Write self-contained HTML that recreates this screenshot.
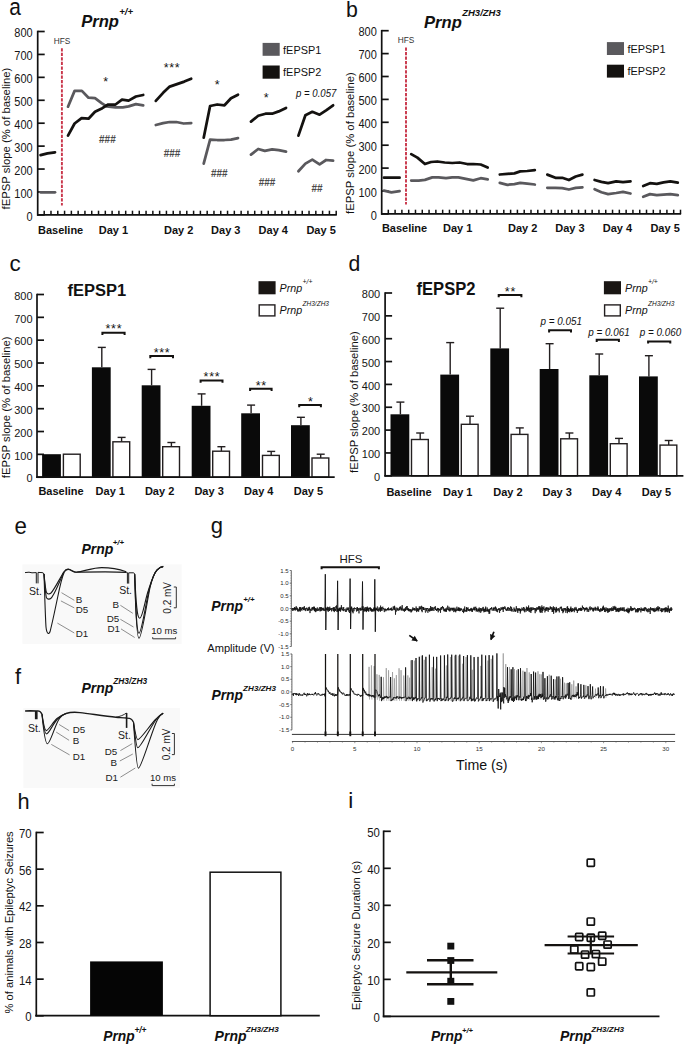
<!DOCTYPE html>
<html><head><meta charset="utf-8"><style>
html,body{margin:0;padding:0;background:#fff;}
svg{display:block;}
text{font-family:"Liberation Sans", sans-serif;}
</style></head><body>
<svg width="685" height="1045" viewBox="0 0 685 1045">
<rect x="0" y="0" width="685" height="1045" fill="#fff"/>
<text transform="translate(9.30,14.80) scale(0.93,1.1)" font-size="22.5" font-weight="normal" font-style="normal" text-anchor="start" fill="#111" font-family="Liberation Sans" >a</text>
<text x="81.20" y="27.00" font-size="16.6" font-weight="bold" font-style="italic" text-anchor="start" fill="#111" font-family="Liberation Sans" >Prnp</text>
<text x="119.20" y="15.30" font-size="9.6" font-weight="bold" font-style="italic" text-anchor="start" fill="#111" font-family="Liberation Sans" >+/+</text>
<line x1="37.70" y1="30.70" x2="37.70" y2="215.70" stroke="#111" stroke-width="1.7" />
<line x1="37.70" y1="214.90" x2="44.70" y2="214.90" stroke="#111" stroke-width="1.7" />
<text transform="translate(32.70,220.50) scale(1.0,1.09)" font-size="11" font-weight="normal" font-style="normal" text-anchor="end" fill="#161616" font-family="Liberation Sans" >0</text>
<line x1="37.70" y1="191.97" x2="44.70" y2="191.97" stroke="#111" stroke-width="1.7" />
<text transform="translate(32.70,197.57) scale(1.0,1.09)" font-size="11" font-weight="normal" font-style="normal" text-anchor="end" fill="#161616" font-family="Liberation Sans" >100</text>
<line x1="37.70" y1="169.05" x2="44.70" y2="169.05" stroke="#111" stroke-width="1.7" />
<text transform="translate(32.70,174.65) scale(1.0,1.09)" font-size="11" font-weight="normal" font-style="normal" text-anchor="end" fill="#161616" font-family="Liberation Sans" >200</text>
<line x1="37.70" y1="146.12" x2="44.70" y2="146.12" stroke="#111" stroke-width="1.7" />
<text transform="translate(32.70,151.72) scale(1.0,1.09)" font-size="11" font-weight="normal" font-style="normal" text-anchor="end" fill="#161616" font-family="Liberation Sans" >300</text>
<line x1="37.70" y1="123.20" x2="44.70" y2="123.20" stroke="#111" stroke-width="1.7" />
<text transform="translate(32.70,128.80) scale(1.0,1.09)" font-size="11" font-weight="normal" font-style="normal" text-anchor="end" fill="#161616" font-family="Liberation Sans" >400</text>
<line x1="37.70" y1="100.28" x2="44.70" y2="100.28" stroke="#111" stroke-width="1.7" />
<text transform="translate(32.70,105.88) scale(1.0,1.09)" font-size="11" font-weight="normal" font-style="normal" text-anchor="end" fill="#161616" font-family="Liberation Sans" >500</text>
<line x1="37.70" y1="77.35" x2="44.70" y2="77.35" stroke="#111" stroke-width="1.7" />
<text transform="translate(32.70,82.95) scale(1.0,1.09)" font-size="11" font-weight="normal" font-style="normal" text-anchor="end" fill="#161616" font-family="Liberation Sans" >600</text>
<line x1="37.70" y1="54.43" x2="44.70" y2="54.43" stroke="#111" stroke-width="1.7" />
<text transform="translate(32.70,60.03) scale(1.0,1.09)" font-size="11" font-weight="normal" font-style="normal" text-anchor="end" fill="#161616" font-family="Liberation Sans" >700</text>
<line x1="37.70" y1="31.50" x2="44.70" y2="31.50" stroke="#111" stroke-width="1.7" />
<text transform="translate(32.70,37.10) scale(1.0,1.09)" font-size="11" font-weight="normal" font-style="normal" text-anchor="end" fill="#161616" font-family="Liberation Sans" >800</text>
<line x1="37.00" y1="214.90" x2="336.80" y2="214.90" stroke="#111" stroke-width="1.7" />
<line x1="44.20" y1="214.90" x2="44.20" y2="210.70" stroke="#111" stroke-width="1.5" />
<line x1="50.99" y1="214.90" x2="50.99" y2="210.70" stroke="#111" stroke-width="1.5" />
<line x1="57.78" y1="214.90" x2="57.78" y2="210.70" stroke="#111" stroke-width="1.5" />
<line x1="64.57" y1="214.90" x2="64.57" y2="210.70" stroke="#111" stroke-width="1.5" />
<line x1="71.36" y1="214.90" x2="71.36" y2="210.70" stroke="#111" stroke-width="1.5" />
<line x1="78.15" y1="214.90" x2="78.15" y2="210.70" stroke="#111" stroke-width="1.5" />
<line x1="84.94" y1="214.90" x2="84.94" y2="210.70" stroke="#111" stroke-width="1.5" />
<line x1="91.73" y1="214.90" x2="91.73" y2="210.70" stroke="#111" stroke-width="1.5" />
<line x1="98.53" y1="214.90" x2="98.53" y2="210.70" stroke="#111" stroke-width="1.5" />
<line x1="105.32" y1="214.90" x2="105.32" y2="210.70" stroke="#111" stroke-width="1.5" />
<line x1="112.11" y1="214.90" x2="112.11" y2="210.70" stroke="#111" stroke-width="1.5" />
<line x1="118.90" y1="214.90" x2="118.90" y2="210.70" stroke="#111" stroke-width="1.5" />
<line x1="125.69" y1="214.90" x2="125.69" y2="210.70" stroke="#111" stroke-width="1.5" />
<line x1="132.48" y1="214.90" x2="132.48" y2="210.70" stroke="#111" stroke-width="1.5" />
<line x1="139.27" y1="214.90" x2="139.27" y2="210.70" stroke="#111" stroke-width="1.5" />
<line x1="146.06" y1="214.90" x2="146.06" y2="210.70" stroke="#111" stroke-width="1.5" />
<line x1="152.85" y1="214.90" x2="152.85" y2="210.70" stroke="#111" stroke-width="1.5" />
<line x1="159.64" y1="214.90" x2="159.64" y2="210.70" stroke="#111" stroke-width="1.5" />
<line x1="166.43" y1="214.90" x2="166.43" y2="210.70" stroke="#111" stroke-width="1.5" />
<line x1="173.22" y1="214.90" x2="173.22" y2="210.70" stroke="#111" stroke-width="1.5" />
<line x1="180.01" y1="214.90" x2="180.01" y2="210.70" stroke="#111" stroke-width="1.5" />
<line x1="186.80" y1="214.90" x2="186.80" y2="210.70" stroke="#111" stroke-width="1.5" />
<line x1="193.60" y1="214.90" x2="193.60" y2="210.70" stroke="#111" stroke-width="1.5" />
<line x1="200.39" y1="214.90" x2="200.39" y2="210.70" stroke="#111" stroke-width="1.5" />
<line x1="207.18" y1="214.90" x2="207.18" y2="210.70" stroke="#111" stroke-width="1.5" />
<line x1="213.97" y1="214.90" x2="213.97" y2="210.70" stroke="#111" stroke-width="1.5" />
<line x1="220.76" y1="214.90" x2="220.76" y2="210.70" stroke="#111" stroke-width="1.5" />
<line x1="227.55" y1="214.90" x2="227.55" y2="210.70" stroke="#111" stroke-width="1.5" />
<line x1="234.34" y1="214.90" x2="234.34" y2="210.70" stroke="#111" stroke-width="1.5" />
<line x1="241.13" y1="214.90" x2="241.13" y2="210.70" stroke="#111" stroke-width="1.5" />
<line x1="247.92" y1="214.90" x2="247.92" y2="210.70" stroke="#111" stroke-width="1.5" />
<line x1="254.71" y1="214.90" x2="254.71" y2="210.70" stroke="#111" stroke-width="1.5" />
<line x1="261.50" y1="214.90" x2="261.50" y2="210.70" stroke="#111" stroke-width="1.5" />
<line x1="268.29" y1="214.90" x2="268.29" y2="210.70" stroke="#111" stroke-width="1.5" />
<line x1="275.08" y1="214.90" x2="275.08" y2="210.70" stroke="#111" stroke-width="1.5" />
<line x1="281.87" y1="214.90" x2="281.87" y2="210.70" stroke="#111" stroke-width="1.5" />
<line x1="288.67" y1="214.90" x2="288.67" y2="210.70" stroke="#111" stroke-width="1.5" />
<line x1="295.46" y1="214.90" x2="295.46" y2="210.70" stroke="#111" stroke-width="1.5" />
<line x1="302.25" y1="214.90" x2="302.25" y2="210.70" stroke="#111" stroke-width="1.5" />
<line x1="309.04" y1="214.90" x2="309.04" y2="210.70" stroke="#111" stroke-width="1.5" />
<line x1="315.83" y1="214.90" x2="315.83" y2="210.70" stroke="#111" stroke-width="1.5" />
<line x1="322.62" y1="214.90" x2="322.62" y2="210.70" stroke="#111" stroke-width="1.5" />
<line x1="329.41" y1="214.90" x2="329.41" y2="210.70" stroke="#111" stroke-width="1.5" />
<line x1="336.20" y1="214.90" x2="336.20" y2="210.70" stroke="#111" stroke-width="1.5" />
<text transform="translate(9.90,138.60) rotate(-90)" x="0" y="0" font-size="11.3" text-anchor="middle" fill="#111" font-family="Liberation Sans">fEPSP slope (% of baseline)</text>
<text x="53.70" y="43.80" font-size="8.3" font-weight="normal" font-style="normal" text-anchor="start" fill="#333" font-family="Liberation Sans" >HFS</text>
<line x1="61.90" y1="48.20" x2="61.90" y2="205.60" stroke="#c9364a" stroke-width="1.9" stroke-dasharray="3.25,1.3"/>
<polyline points="40.5,192.3 55.0,192.3" fill="none" stroke="#5a595d" stroke-width="2.75" stroke-linejoin="round" stroke-linecap="round" />
<polyline points="68.0,106.7 74.6,90.9 81.9,90.9 88.5,97.7 95.0,98.2 101.6,103.1 106.7,106.4 115.5,107.4 122.8,107.4 128.6,106.4 135.9,104.1 143.2,105.3" fill="none" stroke="#5a595d" stroke-width="2.75" stroke-linejoin="round" stroke-linecap="round" />
<polyline points="155.8,125.0 163.1,123.1 169.7,122.0 176.3,122.0 183.6,123.5 191.2,123.1" fill="none" stroke="#5a595d" stroke-width="2.75" stroke-linejoin="round" stroke-linecap="round" />
<polyline points="203.7,163.6 210.1,139.6 217.2,140.0 224.5,140.0 231.0,139.6 238.0,138.1" fill="none" stroke="#5a595d" stroke-width="2.75" stroke-linejoin="round" stroke-linecap="round" />
<polyline points="251.0,154.6 258.2,149.0 264.8,150.8 272.1,149.3 278.7,150.2 286.0,151.7" fill="none" stroke="#5a595d" stroke-width="2.75" stroke-linejoin="round" stroke-linecap="round" />
<polyline points="298.4,171.2 305.4,163.6 312.3,159.6 319.6,164.4 326.1,160.0 333.1,160.7" fill="none" stroke="#5a595d" stroke-width="2.75" stroke-linejoin="round" stroke-linecap="round" />
<polyline points="40.6,155.2 47.5,153.4 55.0,152.3" fill="none" stroke="#141210" stroke-width="2.75" stroke-linejoin="round" stroke-linecap="round" />
<polyline points="68.0,135.6 74.6,123.5 81.6,118.1 88.5,118.7 95.0,111.8 102.3,108.2 108.2,104.5 115.5,104.5 122.0,99.7 128.6,100.6 135.9,96.5 143.2,95.0" fill="none" stroke="#141210" stroke-width="2.75" stroke-linejoin="round" stroke-linecap="round" />
<polyline points="155.8,100.9 163.1,92.8 169.7,86.6 177.0,84.1 184.3,81.6 191.2,78.7" fill="none" stroke="#141210" stroke-width="2.75" stroke-linejoin="round" stroke-linecap="round" />
<polyline points="203.7,137.7 210.1,106.0 217.2,104.5 224.5,105.3 231.0,98.2 238.0,94.7" fill="none" stroke="#141210" stroke-width="2.75" stroke-linejoin="round" stroke-linecap="round" />
<polyline points="251.0,121.6 258.2,115.8 265.5,113.7 272.1,113.7 278.7,111.4 286.0,107.9" fill="none" stroke="#141210" stroke-width="2.75" stroke-linejoin="round" stroke-linecap="round" />
<polyline points="298.4,135.6 305.4,115.2 312.3,111.8 319.6,114.7 326.1,110.4 333.1,105.3" fill="none" stroke="#141210" stroke-width="2.75" stroke-linejoin="round" stroke-linecap="round" />
<rect x="262.60" y="42.90" width="17.10" height="12.90" fill="#5a595d" stroke="none" stroke-width="0" />
<rect x="262.60" y="65.50" width="17.10" height="13.20" fill="#141210" stroke="none" stroke-width="0" />
<text x="283.10" y="54.00" font-size="10.9" font-weight="normal" font-style="normal" text-anchor="start" fill="#111" font-family="Liberation Sans" >fEPSP1</text>
<text x="283.10" y="76.20" font-size="10.9" font-weight="normal" font-style="normal" text-anchor="start" fill="#111" font-family="Liberation Sans" >fEPSP2</text>
<text x="60.60" y="233.70" font-size="11" font-weight="bold" font-style="normal" text-anchor="middle" fill="#111" font-family="Liberation Sans" >Baseline</text>
<text x="113.50" y="233.70" font-size="11" font-weight="bold" font-style="normal" text-anchor="middle" fill="#111" font-family="Liberation Sans" >Day 1</text>
<text x="178.70" y="233.70" font-size="11" font-weight="bold" font-style="normal" text-anchor="middle" fill="#111" font-family="Liberation Sans" >Day 2</text>
<text x="225.80" y="233.70" font-size="11" font-weight="bold" font-style="normal" text-anchor="middle" fill="#111" font-family="Liberation Sans" >Day 3</text>
<text x="273.30" y="233.70" font-size="11" font-weight="bold" font-style="normal" text-anchor="middle" fill="#111" font-family="Liberation Sans" >Day 4</text>
<text x="321.10" y="233.70" font-size="11" font-weight="bold" font-style="normal" text-anchor="middle" fill="#111" font-family="Liberation Sans" >Day 5</text>
<text x="105.60" y="85.50" font-size="12.5" font-weight="normal" font-style="normal" text-anchor="middle" fill="#111" font-family="Liberation Sans" >*</text>
<text x="172.00" y="72.40" font-size="12.5" font-weight="normal" font-style="normal" text-anchor="middle" fill="#111" font-family="Liberation Sans" letter-spacing="0.7">***</text>
<text x="217.20" y="88.70" font-size="12.5" font-weight="normal" font-style="normal" text-anchor="middle" fill="#111" font-family="Liberation Sans" >*</text>
<text x="266.30" y="101.80" font-size="12.5" font-weight="normal" font-style="normal" text-anchor="middle" fill="#111" font-family="Liberation Sans" >*</text>
<text transform="translate(316.20,96.90) scale(1.0,1.1)" font-size="9.6" font-weight="normal" font-style="italic" text-anchor="middle" fill="#111" font-family="Liberation Sans" >p = 0.057</text>
<text x="107.40" y="143.40" font-size="10" font-weight="bold" font-style="normal" text-anchor="middle" fill="#4a4a4a" font-family="Liberation Serif" >###</text>
<text x="172.00" y="156.50" font-size="10" font-weight="bold" font-style="normal" text-anchor="middle" fill="#4a4a4a" font-family="Liberation Serif" >###</text>
<text x="219.30" y="176.90" font-size="10" font-weight="bold" font-style="normal" text-anchor="middle" fill="#4a4a4a" font-family="Liberation Serif" >###</text>
<text x="267.00" y="186.20" font-size="10" font-weight="bold" font-style="normal" text-anchor="middle" fill="#4a4a4a" font-family="Liberation Serif" >###</text>
<text x="317.00" y="192.00" font-size="10" font-weight="bold" font-style="normal" text-anchor="middle" fill="#4a4a4a" font-family="Liberation Serif" >##</text>
<text transform="translate(346.00,16.80) scale(1.0,1.03)" font-size="21.3" font-weight="normal" font-style="normal" text-anchor="start" fill="#111" font-family="Liberation Sans" >b</text>
<text x="424.00" y="27.50" font-size="16.6" font-weight="bold" font-style="italic" text-anchor="start" fill="#111" font-family="Liberation Sans" >Prnp</text>
<text x="462.20" y="15.60" font-size="9.5" font-weight="bold" font-style="italic" text-anchor="start" fill="#111" font-family="Liberation Sans" >ZH3/ZH3</text>
<line x1="381.70" y1="29.90" x2="381.70" y2="214.70" stroke="#111" stroke-width="1.7" />
<line x1="381.70" y1="213.90" x2="388.70" y2="213.90" stroke="#111" stroke-width="1.7" />
<text transform="translate(376.80,219.50) scale(1.0,1.09)" font-size="11" font-weight="normal" font-style="normal" text-anchor="end" fill="#161616" font-family="Liberation Sans" >0</text>
<line x1="381.70" y1="191.00" x2="388.70" y2="191.00" stroke="#111" stroke-width="1.7" />
<text transform="translate(376.80,196.60) scale(1.0,1.09)" font-size="11" font-weight="normal" font-style="normal" text-anchor="end" fill="#161616" font-family="Liberation Sans" >100</text>
<line x1="381.70" y1="168.10" x2="388.70" y2="168.10" stroke="#111" stroke-width="1.7" />
<text transform="translate(376.80,173.70) scale(1.0,1.09)" font-size="11" font-weight="normal" font-style="normal" text-anchor="end" fill="#161616" font-family="Liberation Sans" >200</text>
<line x1="381.70" y1="145.20" x2="388.70" y2="145.20" stroke="#111" stroke-width="1.7" />
<text transform="translate(376.80,150.80) scale(1.0,1.09)" font-size="11" font-weight="normal" font-style="normal" text-anchor="end" fill="#161616" font-family="Liberation Sans" >300</text>
<line x1="381.70" y1="122.30" x2="388.70" y2="122.30" stroke="#111" stroke-width="1.7" />
<text transform="translate(376.80,127.90) scale(1.0,1.09)" font-size="11" font-weight="normal" font-style="normal" text-anchor="end" fill="#161616" font-family="Liberation Sans" >400</text>
<line x1="381.70" y1="99.40" x2="388.70" y2="99.40" stroke="#111" stroke-width="1.7" />
<text transform="translate(376.80,105.00) scale(1.0,1.09)" font-size="11" font-weight="normal" font-style="normal" text-anchor="end" fill="#161616" font-family="Liberation Sans" >500</text>
<line x1="381.70" y1="76.50" x2="388.70" y2="76.50" stroke="#111" stroke-width="1.7" />
<text transform="translate(376.80,82.10) scale(1.0,1.09)" font-size="11" font-weight="normal" font-style="normal" text-anchor="end" fill="#161616" font-family="Liberation Sans" >600</text>
<line x1="381.70" y1="53.60" x2="388.70" y2="53.60" stroke="#111" stroke-width="1.7" />
<text transform="translate(376.80,59.20) scale(1.0,1.09)" font-size="11" font-weight="normal" font-style="normal" text-anchor="end" fill="#161616" font-family="Liberation Sans" >700</text>
<line x1="381.70" y1="30.70" x2="388.70" y2="30.70" stroke="#111" stroke-width="1.7" />
<text transform="translate(376.80,36.30) scale(1.0,1.09)" font-size="11" font-weight="normal" font-style="normal" text-anchor="end" fill="#161616" font-family="Liberation Sans" >800</text>
<line x1="381.00" y1="213.90" x2="681.10" y2="213.90" stroke="#111" stroke-width="1.7" />
<line x1="388.30" y1="213.90" x2="388.30" y2="209.70" stroke="#111" stroke-width="1.5" />
<line x1="395.10" y1="213.90" x2="395.10" y2="209.70" stroke="#111" stroke-width="1.5" />
<line x1="401.89" y1="213.90" x2="401.89" y2="209.70" stroke="#111" stroke-width="1.5" />
<line x1="408.69" y1="213.90" x2="408.69" y2="209.70" stroke="#111" stroke-width="1.5" />
<line x1="415.48" y1="213.90" x2="415.48" y2="209.70" stroke="#111" stroke-width="1.5" />
<line x1="422.28" y1="213.90" x2="422.28" y2="209.70" stroke="#111" stroke-width="1.5" />
<line x1="429.07" y1="213.90" x2="429.07" y2="209.70" stroke="#111" stroke-width="1.5" />
<line x1="435.87" y1="213.90" x2="435.87" y2="209.70" stroke="#111" stroke-width="1.5" />
<line x1="442.66" y1="213.90" x2="442.66" y2="209.70" stroke="#111" stroke-width="1.5" />
<line x1="449.46" y1="213.90" x2="449.46" y2="209.70" stroke="#111" stroke-width="1.5" />
<line x1="456.25" y1="213.90" x2="456.25" y2="209.70" stroke="#111" stroke-width="1.5" />
<line x1="463.05" y1="213.90" x2="463.05" y2="209.70" stroke="#111" stroke-width="1.5" />
<line x1="469.84" y1="213.90" x2="469.84" y2="209.70" stroke="#111" stroke-width="1.5" />
<line x1="476.64" y1="213.90" x2="476.64" y2="209.70" stroke="#111" stroke-width="1.5" />
<line x1="483.43" y1="213.90" x2="483.43" y2="209.70" stroke="#111" stroke-width="1.5" />
<line x1="490.23" y1="213.90" x2="490.23" y2="209.70" stroke="#111" stroke-width="1.5" />
<line x1="497.03" y1="213.90" x2="497.03" y2="209.70" stroke="#111" stroke-width="1.5" />
<line x1="503.82" y1="213.90" x2="503.82" y2="209.70" stroke="#111" stroke-width="1.5" />
<line x1="510.62" y1="213.90" x2="510.62" y2="209.70" stroke="#111" stroke-width="1.5" />
<line x1="517.41" y1="213.90" x2="517.41" y2="209.70" stroke="#111" stroke-width="1.5" />
<line x1="524.21" y1="213.90" x2="524.21" y2="209.70" stroke="#111" stroke-width="1.5" />
<line x1="531.00" y1="213.90" x2="531.00" y2="209.70" stroke="#111" stroke-width="1.5" />
<line x1="537.80" y1="213.90" x2="537.80" y2="209.70" stroke="#111" stroke-width="1.5" />
<line x1="544.59" y1="213.90" x2="544.59" y2="209.70" stroke="#111" stroke-width="1.5" />
<line x1="551.39" y1="213.90" x2="551.39" y2="209.70" stroke="#111" stroke-width="1.5" />
<line x1="558.18" y1="213.90" x2="558.18" y2="209.70" stroke="#111" stroke-width="1.5" />
<line x1="564.98" y1="213.90" x2="564.98" y2="209.70" stroke="#111" stroke-width="1.5" />
<line x1="571.77" y1="213.90" x2="571.77" y2="209.70" stroke="#111" stroke-width="1.5" />
<line x1="578.57" y1="213.90" x2="578.57" y2="209.70" stroke="#111" stroke-width="1.5" />
<line x1="585.37" y1="213.90" x2="585.37" y2="209.70" stroke="#111" stroke-width="1.5" />
<line x1="592.16" y1="213.90" x2="592.16" y2="209.70" stroke="#111" stroke-width="1.5" />
<line x1="598.96" y1="213.90" x2="598.96" y2="209.70" stroke="#111" stroke-width="1.5" />
<line x1="605.75" y1="213.90" x2="605.75" y2="209.70" stroke="#111" stroke-width="1.5" />
<line x1="612.55" y1="213.90" x2="612.55" y2="209.70" stroke="#111" stroke-width="1.5" />
<line x1="619.34" y1="213.90" x2="619.34" y2="209.70" stroke="#111" stroke-width="1.5" />
<line x1="626.14" y1="213.90" x2="626.14" y2="209.70" stroke="#111" stroke-width="1.5" />
<line x1="632.93" y1="213.90" x2="632.93" y2="209.70" stroke="#111" stroke-width="1.5" />
<line x1="639.73" y1="213.90" x2="639.73" y2="209.70" stroke="#111" stroke-width="1.5" />
<line x1="646.52" y1="213.90" x2="646.52" y2="209.70" stroke="#111" stroke-width="1.5" />
<line x1="653.32" y1="213.90" x2="653.32" y2="209.70" stroke="#111" stroke-width="1.5" />
<line x1="660.11" y1="213.90" x2="660.11" y2="209.70" stroke="#111" stroke-width="1.5" />
<line x1="666.91" y1="213.90" x2="666.91" y2="209.70" stroke="#111" stroke-width="1.5" />
<line x1="673.70" y1="213.90" x2="673.70" y2="209.70" stroke="#111" stroke-width="1.5" />
<line x1="680.50" y1="213.90" x2="680.50" y2="209.70" stroke="#111" stroke-width="1.5" />
<text transform="translate(354.00,143.10) rotate(-90)" x="0" y="0" font-size="11.3" text-anchor="middle" fill="#111" font-family="Liberation Sans">fEPSP slope (% of baseline)</text>
<text x="397.70" y="43.10" font-size="8.3" font-weight="normal" font-style="normal" text-anchor="start" fill="#333" font-family="Liberation Sans" >HFS</text>
<line x1="406.00" y1="47.40" x2="406.00" y2="204.60" stroke="#c9364a" stroke-width="1.9" stroke-dasharray="3.25,1.3"/>
<polyline points="384.0,190.6 391.4,192.3 399.6,191.1" fill="none" stroke="#5a595d" stroke-width="2.75" stroke-linejoin="round" stroke-linecap="round" />
<polyline points="411.2,180.6 418.7,180.6 424.9,179.9 432.3,177.4 438.5,177.4 446.0,178.2 452.2,177.4 458.4,177.4 465.8,178.9 473.3,180.4 480.7,178.2 487.7,179.4" fill="none" stroke="#5a595d" stroke-width="2.75" stroke-linejoin="round" stroke-linecap="round" />
<polyline points="499.8,182.9 507.4,184.8 514.4,184.1 520.2,182.9 527.2,183.6 534.8,184.5" fill="none" stroke="#5a595d" stroke-width="2.75" stroke-linejoin="round" stroke-linecap="round" />
<polyline points="547.3,187.8 555.4,187.8 562.2,188.1 568.9,189.5 575.7,187.8 582.4,187.3" fill="none" stroke="#5a595d" stroke-width="2.75" stroke-linejoin="round" stroke-linecap="round" />
<polyline points="594.6,189.2 601.4,192.2 608.1,194.1 616.2,193.0 623.0,191.9 630.5,193.5" fill="none" stroke="#5a595d" stroke-width="2.75" stroke-linejoin="round" stroke-linecap="round" />
<polyline points="643.2,196.8 650.0,194.1 656.8,195.1 663.5,194.6 670.3,194.1 677.8,195.1" fill="none" stroke="#5a595d" stroke-width="2.75" stroke-linejoin="round" stroke-linecap="round" />
<polyline points="384.0,177.7 399.6,177.7" fill="none" stroke="#141210" stroke-width="2.75" stroke-linejoin="round" stroke-linecap="round" />
<polyline points="411.2,154.1 417.4,157.6 424.9,164.0 431.1,162.0 437.3,161.5 444.7,162.5 452.2,163.0 459.6,162.5 467.1,164.0 473.3,164.0 480.7,164.5 487.7,167.5" fill="none" stroke="#141210" stroke-width="2.75" stroke-linejoin="round" stroke-linecap="round" />
<polyline points="499.8,174.5 507.4,173.9 514.4,173.4 520.2,171.4 527.2,171.0 534.8,170.1" fill="none" stroke="#141210" stroke-width="2.75" stroke-linejoin="round" stroke-linecap="round" />
<polyline points="547.3,174.6 555.4,177.8 562.2,177.8 568.9,180.0 575.7,176.5 582.4,174.6" fill="none" stroke="#141210" stroke-width="2.75" stroke-linejoin="round" stroke-linecap="round" />
<polyline points="594.6,180.0 601.4,181.9 608.1,183.2 616.2,181.4 623.0,182.2 630.5,181.4" fill="none" stroke="#141210" stroke-width="2.75" stroke-linejoin="round" stroke-linecap="round" />
<polyline points="643.2,186.0 650.0,183.2 656.8,183.8 663.5,182.4 670.3,181.4 677.8,182.7" fill="none" stroke="#141210" stroke-width="2.75" stroke-linejoin="round" stroke-linecap="round" />
<rect x="606.90" y="42.10" width="17.10" height="12.90" fill="#5a595d" stroke="none" stroke-width="0" />
<rect x="606.90" y="64.70" width="17.10" height="12.90" fill="#141210" stroke="none" stroke-width="0" />
<text x="627.40" y="52.90" font-size="10.9" font-weight="normal" font-style="normal" text-anchor="start" fill="#111" font-family="Liberation Sans" >fEPSP1</text>
<text x="627.40" y="75.10" font-size="10.9" font-weight="normal" font-style="normal" text-anchor="start" fill="#111" font-family="Liberation Sans" >fEPSP2</text>
<text x="404.50" y="231.80" font-size="11" font-weight="bold" font-style="normal" text-anchor="middle" fill="#111" font-family="Liberation Sans" >Baseline</text>
<text x="457.70" y="231.80" font-size="11" font-weight="bold" font-style="normal" text-anchor="middle" fill="#111" font-family="Liberation Sans" >Day 1</text>
<text x="522.70" y="231.80" font-size="11" font-weight="bold" font-style="normal" text-anchor="middle" fill="#111" font-family="Liberation Sans" >Day 2</text>
<text x="569.90" y="231.80" font-size="11" font-weight="bold" font-style="normal" text-anchor="middle" fill="#111" font-family="Liberation Sans" >Day 3</text>
<text x="617.50" y="231.80" font-size="11" font-weight="bold" font-style="normal" text-anchor="middle" fill="#111" font-family="Liberation Sans" >Day 4</text>
<text x="665.10" y="231.80" font-size="11" font-weight="bold" font-style="normal" text-anchor="middle" fill="#111" font-family="Liberation Sans" >Day 5</text>
<text x="9.40" y="270.90" font-size="22.4" font-weight="normal" font-style="normal" text-anchor="start" fill="#111" font-family="Liberation Sans" >c</text>
<text transform="translate(67.40,296.40) scale(1.065,1.12)" font-size="15.5" font-weight="bold" font-style="normal" text-anchor="start" fill="#111" font-family="Liberation Sans" >fEPSP1</text>
<text transform="translate(9.80,407.30) rotate(-90)" x="0" y="0" font-size="11.3" text-anchor="middle" fill="#111" font-family="Liberation Sans">fEPSP slope (% of baseline)</text>
<line x1="37.00" y1="293.70" x2="37.00" y2="478.00" stroke="#111" stroke-width="1.7" />
<line x1="37.00" y1="477.20" x2="44.00" y2="477.20" stroke="#111" stroke-width="1.7" />
<text x="32.60" y="482.40" font-size="11" font-weight="normal" font-style="normal" text-anchor="end" fill="#161616" font-family="Liberation Sans" >0</text>
<line x1="37.00" y1="454.36" x2="44.00" y2="454.36" stroke="#111" stroke-width="1.7" />
<text x="32.60" y="459.56" font-size="11" font-weight="normal" font-style="normal" text-anchor="end" fill="#161616" font-family="Liberation Sans" >100</text>
<line x1="37.00" y1="431.52" x2="44.00" y2="431.52" stroke="#111" stroke-width="1.7" />
<text x="32.60" y="436.72" font-size="11" font-weight="normal" font-style="normal" text-anchor="end" fill="#161616" font-family="Liberation Sans" >200</text>
<line x1="37.00" y1="408.69" x2="44.00" y2="408.69" stroke="#111" stroke-width="1.7" />
<text x="32.60" y="413.89" font-size="11" font-weight="normal" font-style="normal" text-anchor="end" fill="#161616" font-family="Liberation Sans" >300</text>
<line x1="37.00" y1="385.85" x2="44.00" y2="385.85" stroke="#111" stroke-width="1.7" />
<text x="32.60" y="391.05" font-size="11" font-weight="normal" font-style="normal" text-anchor="end" fill="#161616" font-family="Liberation Sans" >400</text>
<line x1="37.00" y1="363.01" x2="44.00" y2="363.01" stroke="#111" stroke-width="1.7" />
<text x="32.60" y="368.21" font-size="11" font-weight="normal" font-style="normal" text-anchor="end" fill="#161616" font-family="Liberation Sans" >500</text>
<line x1="37.00" y1="340.18" x2="44.00" y2="340.18" stroke="#111" stroke-width="1.7" />
<text x="32.60" y="345.38" font-size="11" font-weight="normal" font-style="normal" text-anchor="end" fill="#161616" font-family="Liberation Sans" >600</text>
<line x1="37.00" y1="317.34" x2="44.00" y2="317.34" stroke="#111" stroke-width="1.7" />
<text x="32.60" y="322.54" font-size="11" font-weight="normal" font-style="normal" text-anchor="end" fill="#161616" font-family="Liberation Sans" >700</text>
<line x1="37.00" y1="294.50" x2="44.00" y2="294.50" stroke="#111" stroke-width="1.7" />
<text x="32.60" y="299.70" font-size="11" font-weight="normal" font-style="normal" text-anchor="end" fill="#161616" font-family="Liberation Sans" >800</text>
<rect x="42.10" y="454.20" width="18.80" height="23.00" fill="#0a0a0a" stroke="none" stroke-width="0" />
<rect x="63.40" y="454.20" width="16.80" height="23.00" fill="#fff" stroke="#231f20" stroke-width="1.4" />
<line x1="101.80" y1="347.40" x2="101.80" y2="367.30" stroke="#231f20" stroke-width="1.4" />
<line x1="97.80" y1="347.40" x2="105.80" y2="347.40" stroke="#231f20" stroke-width="1.4" />
<rect x="91.90" y="367.30" width="18.80" height="109.90" fill="#0a0a0a" stroke="none" stroke-width="0" />
<line x1="121.60" y1="437.40" x2="121.60" y2="441.80" stroke="#231f20" stroke-width="1.4" />
<line x1="117.60" y1="437.40" x2="125.60" y2="437.40" stroke="#231f20" stroke-width="1.4" />
<rect x="112.90" y="441.80" width="16.80" height="35.40" fill="#fff" stroke="#231f20" stroke-width="1.4" />
<line x1="151.60" y1="369.40" x2="151.60" y2="385.30" stroke="#231f20" stroke-width="1.4" />
<line x1="147.60" y1="369.40" x2="155.60" y2="369.40" stroke="#231f20" stroke-width="1.4" />
<rect x="141.70" y="385.30" width="18.80" height="91.90" fill="#0a0a0a" stroke="none" stroke-width="0" />
<line x1="171.40" y1="442.50" x2="171.40" y2="446.70" stroke="#231f20" stroke-width="1.4" />
<line x1="167.40" y1="442.50" x2="175.40" y2="442.50" stroke="#231f20" stroke-width="1.4" />
<rect x="162.70" y="446.70" width="16.80" height="30.50" fill="#fff" stroke="#231f20" stroke-width="1.4" />
<line x1="201.60" y1="393.90" x2="201.60" y2="405.80" stroke="#231f20" stroke-width="1.4" />
<line x1="197.60" y1="393.90" x2="205.60" y2="393.90" stroke="#231f20" stroke-width="1.4" />
<rect x="191.70" y="405.80" width="18.80" height="71.40" fill="#0a0a0a" stroke="none" stroke-width="0" />
<line x1="221.40" y1="446.70" x2="221.40" y2="451.20" stroke="#231f20" stroke-width="1.4" />
<line x1="217.40" y1="446.70" x2="225.40" y2="446.70" stroke="#231f20" stroke-width="1.4" />
<rect x="212.70" y="451.20" width="16.80" height="26.00" fill="#fff" stroke="#231f20" stroke-width="1.4" />
<line x1="251.10" y1="405.10" x2="251.10" y2="413.30" stroke="#231f20" stroke-width="1.4" />
<line x1="247.10" y1="405.10" x2="255.10" y2="405.10" stroke="#231f20" stroke-width="1.4" />
<rect x="241.20" y="413.30" width="18.80" height="63.90" fill="#0a0a0a" stroke="none" stroke-width="0" />
<line x1="271.20" y1="451.40" x2="271.20" y2="455.40" stroke="#231f20" stroke-width="1.4" />
<line x1="267.20" y1="451.40" x2="275.20" y2="451.40" stroke="#231f20" stroke-width="1.4" />
<rect x="262.50" y="455.40" width="16.80" height="21.80" fill="#fff" stroke="#231f20" stroke-width="1.4" />
<line x1="300.90" y1="417.30" x2="300.90" y2="425.20" stroke="#231f20" stroke-width="1.4" />
<line x1="296.90" y1="417.30" x2="304.90" y2="417.30" stroke="#231f20" stroke-width="1.4" />
<rect x="291.00" y="425.20" width="18.80" height="52.00" fill="#0a0a0a" stroke="none" stroke-width="0" />
<line x1="320.70" y1="454.20" x2="320.70" y2="458.00" stroke="#231f20" stroke-width="1.4" />
<line x1="316.70" y1="454.20" x2="324.70" y2="454.20" stroke="#231f20" stroke-width="1.4" />
<rect x="312.00" y="458.00" width="16.80" height="19.20" fill="#fff" stroke="#231f20" stroke-width="1.4" />
<line x1="36.20" y1="477.20" x2="334.70" y2="477.20" stroke="#111" stroke-width="1.7" />
<text x="61.00" y="494.80" font-size="11" font-weight="bold" font-style="normal" text-anchor="middle" fill="#111" font-family="Liberation Sans" >Baseline</text>
<text x="110.30" y="494.80" font-size="11" font-weight="bold" font-style="normal" text-anchor="middle" fill="#111" font-family="Liberation Sans" >Day 1</text>
<text x="159.60" y="494.80" font-size="11" font-weight="bold" font-style="normal" text-anchor="middle" fill="#111" font-family="Liberation Sans" >Day 2</text>
<text x="209.10" y="494.80" font-size="11" font-weight="bold" font-style="normal" text-anchor="middle" fill="#111" font-family="Liberation Sans" >Day 3</text>
<text x="258.80" y="494.80" font-size="11" font-weight="bold" font-style="normal" text-anchor="middle" fill="#111" font-family="Liberation Sans" >Day 4</text>
<text x="308.50" y="494.80" font-size="11" font-weight="bold" font-style="normal" text-anchor="middle" fill="#111" font-family="Liberation Sans" >Day 5</text>
<path d="M102.40,334.90 L102.40,332.70 L124.60,332.70 L124.60,334.90" fill="none" stroke="#141210" stroke-width="2.0" stroke-linejoin="miter"/>
<text x="113.90" y="333.40" font-size="12.5" font-weight="normal" font-style="normal" text-anchor="middle" fill="#111" font-family="Liberation Sans" letter-spacing="0.7">***</text>
<path d="M150.30,358.30 L150.30,356.10 L173.00,356.10 L173.00,358.30" fill="none" stroke="#141210" stroke-width="2.0" stroke-linejoin="miter"/>
<text x="162.05" y="356.80" font-size="12.5" font-weight="normal" font-style="normal" text-anchor="middle" fill="#111" font-family="Liberation Sans" letter-spacing="0.7">***</text>
<path d="M200.60,382.80 L200.60,380.60 L222.50,380.60 L222.50,382.80" fill="none" stroke="#141210" stroke-width="2.0" stroke-linejoin="miter"/>
<text x="211.95" y="381.30" font-size="12.5" font-weight="normal" font-style="normal" text-anchor="middle" fill="#111" font-family="Liberation Sans" letter-spacing="0.7">***</text>
<path d="M250.10,391.00 L250.10,388.80 L271.60,388.80 L271.60,391.00" fill="none" stroke="#141210" stroke-width="2.0" stroke-linejoin="miter"/>
<text x="261.25" y="389.50" font-size="12.5" font-weight="normal" font-style="normal" text-anchor="middle" fill="#111" font-family="Liberation Sans" letter-spacing="0.7">**</text>
<path d="M299.20,407.30 L299.20,405.10 L320.90,405.10 L320.90,407.30" fill="none" stroke="#141210" stroke-width="2.0" stroke-linejoin="miter"/>
<text x="310.45" y="405.80" font-size="12.5" font-weight="normal" font-style="normal" text-anchor="middle" fill="#111" font-family="Liberation Sans" >*</text>
<rect x="258.50" y="281.20" width="17.10" height="13.10" fill="#1a1614" stroke="none" stroke-width="0" />
<rect x="259.20" y="304.90" width="15.70" height="11.00" fill="#fff" stroke="#231f20" stroke-width="1.4" />
<text x="279.60" y="291.70" font-size="10.7" font-weight="normal" font-style="italic" text-anchor="start" fill="#111" font-family="Liberation Sans" >Prnp</text>
<text x="302.60" y="284.40" font-size="6.8" font-weight="normal" font-style="italic" text-anchor="start" fill="#111" font-family="Liberation Sans" >+/+</text>
<text x="279.60" y="314.40" font-size="10.7" font-weight="normal" font-style="italic" text-anchor="start" fill="#111" font-family="Liberation Sans" >Prnp</text>
<text x="302.60" y="305.90" font-size="6.5" font-weight="normal" font-style="italic" text-anchor="start" fill="#111" font-family="Liberation Sans" >ZH3/ZH3</text>
<text transform="translate(348.50,270.80) scale(1.0,1.05)" font-size="21.2" font-weight="normal" font-style="normal" text-anchor="start" fill="#111" font-family="Liberation Sans" >d</text>
<text transform="translate(416.50,294.60) scale(1.07,1.14)" font-size="15.5" font-weight="bold" font-style="normal" text-anchor="start" fill="#111" font-family="Liberation Sans" >fEPSP2</text>
<text transform="translate(358.00,402.10) rotate(-90)" x="0" y="0" font-size="11.3" text-anchor="middle" fill="#111" font-family="Liberation Sans">fEPSP slope (% of baseline)</text>
<line x1="385.10" y1="292.20" x2="385.10" y2="476.60" stroke="#111" stroke-width="1.7" />
<line x1="385.10" y1="475.80" x2="392.10" y2="475.80" stroke="#111" stroke-width="1.7" />
<text x="380.20" y="481.00" font-size="11" font-weight="normal" font-style="normal" text-anchor="end" fill="#161616" font-family="Liberation Sans" >0</text>
<line x1="385.10" y1="452.95" x2="392.10" y2="452.95" stroke="#111" stroke-width="1.7" />
<text x="380.20" y="458.15" font-size="11" font-weight="normal" font-style="normal" text-anchor="end" fill="#161616" font-family="Liberation Sans" >100</text>
<line x1="385.10" y1="430.10" x2="392.10" y2="430.10" stroke="#111" stroke-width="1.7" />
<text x="380.20" y="435.30" font-size="11" font-weight="normal" font-style="normal" text-anchor="end" fill="#161616" font-family="Liberation Sans" >200</text>
<line x1="385.10" y1="407.25" x2="392.10" y2="407.25" stroke="#111" stroke-width="1.7" />
<text x="380.20" y="412.45" font-size="11" font-weight="normal" font-style="normal" text-anchor="end" fill="#161616" font-family="Liberation Sans" >300</text>
<line x1="385.10" y1="384.40" x2="392.10" y2="384.40" stroke="#111" stroke-width="1.7" />
<text x="380.20" y="389.60" font-size="11" font-weight="normal" font-style="normal" text-anchor="end" fill="#161616" font-family="Liberation Sans" >400</text>
<line x1="385.10" y1="361.55" x2="392.10" y2="361.55" stroke="#111" stroke-width="1.7" />
<text x="380.20" y="366.75" font-size="11" font-weight="normal" font-style="normal" text-anchor="end" fill="#161616" font-family="Liberation Sans" >500</text>
<line x1="385.10" y1="338.70" x2="392.10" y2="338.70" stroke="#111" stroke-width="1.7" />
<text x="380.20" y="343.90" font-size="11" font-weight="normal" font-style="normal" text-anchor="end" fill="#161616" font-family="Liberation Sans" >600</text>
<line x1="385.10" y1="315.85" x2="392.10" y2="315.85" stroke="#111" stroke-width="1.7" />
<text x="380.20" y="321.05" font-size="11" font-weight="normal" font-style="normal" text-anchor="end" fill="#161616" font-family="Liberation Sans" >700</text>
<line x1="385.10" y1="293.00" x2="392.10" y2="293.00" stroke="#111" stroke-width="1.7" />
<text x="380.20" y="298.20" font-size="11" font-weight="normal" font-style="normal" text-anchor="end" fill="#161616" font-family="Liberation Sans" >800</text>
<line x1="400.40" y1="402.10" x2="400.40" y2="414.30" stroke="#231f20" stroke-width="1.4" />
<line x1="396.40" y1="402.10" x2="404.40" y2="402.10" stroke="#231f20" stroke-width="1.4" />
<rect x="390.50" y="414.30" width="18.80" height="61.50" fill="#0a0a0a" stroke="none" stroke-width="0" />
<line x1="420.20" y1="433.00" x2="420.20" y2="439.50" stroke="#231f20" stroke-width="1.4" />
<line x1="416.20" y1="433.00" x2="424.20" y2="433.00" stroke="#231f20" stroke-width="1.4" />
<rect x="411.50" y="439.50" width="16.80" height="36.30" fill="#fff" stroke="#231f20" stroke-width="1.4" />
<line x1="450.20" y1="342.60" x2="450.20" y2="374.60" stroke="#231f20" stroke-width="1.4" />
<line x1="446.20" y1="342.60" x2="454.20" y2="342.60" stroke="#231f20" stroke-width="1.4" />
<rect x="440.30" y="374.60" width="18.80" height="101.20" fill="#0a0a0a" stroke="none" stroke-width="0" />
<line x1="470.00" y1="416.20" x2="470.00" y2="424.30" stroke="#231f20" stroke-width="1.4" />
<line x1="466.00" y1="416.20" x2="474.00" y2="416.20" stroke="#231f20" stroke-width="1.4" />
<rect x="461.30" y="424.30" width="16.80" height="51.50" fill="#fff" stroke="#231f20" stroke-width="1.4" />
<line x1="500.20" y1="308.20" x2="500.20" y2="348.40" stroke="#231f20" stroke-width="1.4" />
<line x1="496.20" y1="308.20" x2="504.20" y2="308.20" stroke="#231f20" stroke-width="1.4" />
<rect x="490.30" y="348.40" width="18.80" height="127.40" fill="#0a0a0a" stroke="none" stroke-width="0" />
<line x1="519.80" y1="427.90" x2="519.80" y2="434.40" stroke="#231f20" stroke-width="1.4" />
<line x1="515.80" y1="427.90" x2="523.80" y2="427.90" stroke="#231f20" stroke-width="1.4" />
<rect x="511.10" y="434.40" width="16.80" height="41.40" fill="#fff" stroke="#231f20" stroke-width="1.4" />
<line x1="549.60" y1="343.70" x2="549.60" y2="369.00" stroke="#231f20" stroke-width="1.4" />
<line x1="545.60" y1="343.70" x2="553.60" y2="343.70" stroke="#231f20" stroke-width="1.4" />
<rect x="539.70" y="369.00" width="18.80" height="106.80" fill="#0a0a0a" stroke="none" stroke-width="0" />
<line x1="569.40" y1="433.00" x2="569.40" y2="438.80" stroke="#231f20" stroke-width="1.4" />
<line x1="565.40" y1="433.00" x2="573.40" y2="433.00" stroke="#231f20" stroke-width="1.4" />
<rect x="560.70" y="438.80" width="16.80" height="37.00" fill="#fff" stroke="#231f20" stroke-width="1.4" />
<line x1="599.20" y1="354.00" x2="599.20" y2="375.30" stroke="#231f20" stroke-width="1.4" />
<line x1="595.20" y1="354.00" x2="603.20" y2="354.00" stroke="#231f20" stroke-width="1.4" />
<rect x="589.30" y="375.30" width="18.80" height="100.50" fill="#0a0a0a" stroke="none" stroke-width="0" />
<line x1="619.00" y1="438.40" x2="619.00" y2="443.70" stroke="#231f20" stroke-width="1.4" />
<line x1="615.00" y1="438.40" x2="623.00" y2="438.40" stroke="#231f20" stroke-width="1.4" />
<rect x="610.30" y="443.70" width="16.80" height="32.10" fill="#fff" stroke="#231f20" stroke-width="1.4" />
<line x1="648.90" y1="355.70" x2="648.90" y2="376.40" stroke="#231f20" stroke-width="1.4" />
<line x1="644.90" y1="355.70" x2="652.90" y2="355.70" stroke="#231f20" stroke-width="1.4" />
<rect x="639.00" y="376.40" width="18.80" height="99.40" fill="#0a0a0a" stroke="none" stroke-width="0" />
<line x1="668.70" y1="440.50" x2="668.70" y2="445.10" stroke="#231f20" stroke-width="1.4" />
<line x1="664.70" y1="440.50" x2="672.70" y2="440.50" stroke="#231f20" stroke-width="1.4" />
<rect x="660.00" y="445.10" width="16.80" height="30.70" fill="#fff" stroke="#231f20" stroke-width="1.4" />
<line x1="384.30" y1="475.80" x2="683.40" y2="475.80" stroke="#111" stroke-width="1.7" />
<text x="409.00" y="495.60" font-size="11" font-weight="bold" font-style="normal" text-anchor="middle" fill="#111" font-family="Liberation Sans" >Baseline</text>
<text x="457.80" y="495.60" font-size="11" font-weight="bold" font-style="normal" text-anchor="middle" fill="#111" font-family="Liberation Sans" >Day 1</text>
<text x="507.90" y="495.60" font-size="11" font-weight="bold" font-style="normal" text-anchor="middle" fill="#111" font-family="Liberation Sans" >Day 2</text>
<text x="557.20" y="495.60" font-size="11" font-weight="bold" font-style="normal" text-anchor="middle" fill="#111" font-family="Liberation Sans" >Day 3</text>
<text x="606.70" y="495.60" font-size="11" font-weight="bold" font-style="normal" text-anchor="middle" fill="#111" font-family="Liberation Sans" >Day 4</text>
<text x="656.40" y="495.60" font-size="11" font-weight="bold" font-style="normal" text-anchor="middle" fill="#111" font-family="Liberation Sans" >Day 5</text>
<path d="M498.70,297.30 L498.70,295.10 L521.40,295.10 L521.40,297.30" fill="none" stroke="#141210" stroke-width="2.0" stroke-linejoin="miter"/>
<text x="510.40" y="295.80" font-size="12.5" font-weight="normal" font-style="normal" text-anchor="middle" fill="#111" font-family="Liberation Sans" letter-spacing="0.7">**</text>
<path d="M549.10,332.40 L549.10,330.20 L571.00,330.20 L571.00,332.40" fill="none" stroke="#141210" stroke-width="2.0" stroke-linejoin="miter"/>
<text transform="translate(561.25,325.00) scale(1.0,1.04)" font-size="9.9" font-weight="normal" font-style="italic" text-anchor="middle" fill="#111" font-family="Liberation Sans" >p = 0.051</text>
<path d="M596.70,342.00 L596.70,339.80 L618.90,339.80 L618.90,342.00" fill="none" stroke="#141210" stroke-width="2.0" stroke-linejoin="miter"/>
<text transform="translate(609.00,335.50) scale(1.0,1.04)" font-size="9.9" font-weight="normal" font-style="italic" text-anchor="middle" fill="#111" font-family="Liberation Sans" >p = 0.061</text>
<path d="M648.10,343.60 L648.10,341.40 L670.30,341.40 L670.30,343.60" fill="none" stroke="#141210" stroke-width="2.0" stroke-linejoin="miter"/>
<text transform="translate(660.40,336.30) scale(1.0,1.04)" font-size="9.9" font-weight="normal" font-style="italic" text-anchor="middle" fill="#111" font-family="Liberation Sans" >p = 0.060</text>
<rect x="603.90" y="281.20" width="17.10" height="13.10" fill="#1a1614" stroke="none" stroke-width="0" />
<rect x="604.60" y="304.90" width="15.70" height="11.00" fill="#fff" stroke="#231f20" stroke-width="1.4" />
<text x="625.00" y="291.70" font-size="10.7" font-weight="normal" font-style="italic" text-anchor="start" fill="#111" font-family="Liberation Sans" >Prnp</text>
<text x="648.00" y="284.40" font-size="6.8" font-weight="normal" font-style="italic" text-anchor="start" fill="#111" font-family="Liberation Sans" >+/+</text>
<text x="625.00" y="314.40" font-size="10.7" font-weight="normal" font-style="italic" text-anchor="start" fill="#111" font-family="Liberation Sans" >Prnp</text>
<text x="648.00" y="305.90" font-size="6.5" font-weight="normal" font-style="italic" text-anchor="start" fill="#111" font-family="Liberation Sans" >ZH3/ZH3</text>
<rect x="22.40" y="564.30" width="159.30" height="79.60" fill="#f9f9f9" stroke="none" stroke-width="0" />
<rect x="23.40" y="708.00" width="156.50" height="80.00" fill="#f9f9f9" stroke="none" stroke-width="0" />
<text transform="translate(14.60,533.60) scale(1.0,1.04)" font-size="22.3" font-weight="normal" font-style="normal" text-anchor="start" fill="#111" font-family="Liberation Sans" >e</text>
<text x="81.50" y="554.20" font-size="14" font-weight="bold" font-style="italic" text-anchor="start" fill="#111" font-family="Liberation Sans" >Prnp</text>
<text x="112.80" y="545.20" font-size="7.8" font-weight="bold" font-style="italic" text-anchor="start" fill="#111" font-family="Liberation Sans" >+/+</text>
<path d="M25,572.6 L29,572.2 L32,572.8 L36.3,572.6 L36.3,583.4 M38.0,583.4 L38.0,572.4 L42,572.6 Q43.5,572.6 44,574" fill="none" stroke="#1a1a1a" stroke-width="1.0" />
<path d="M44,574 C44.8,582 45.5,590 46.5,592.5 C47.5,594.3 49.5,594.4 51,593 C54,590 59,580 63.6,572.2" fill="none" stroke="#1a1a1a" stroke-width="1.1" />
<path d="M44,574 C44.8,585 45.5,595 46.5,597.8 C47.5,599.5 49.6,599.6 51.2,598 C54.5,594.5 59,583 63.8,572.0" fill="none" stroke="#1a1a1a" stroke-width="1.1" />
<path d="M44,574 C44.6,590 45.2,615 46,627 C46.8,634.5 49,635 50.2,631 C52,624 55,610 57.5,598 C59.5,588 61.5,578 64.4,571.7" fill="none" stroke="#1a1a1a" stroke-width="1.1" />
<path d="M63.6,572.2 C65.5,569.5 67.5,568.8 69,569.3 C71.5,570.2 73.5,572.3 76,572.3 C85,571 93,567.6 101.7,567.6 C110,567.6 120,569.5 126.3,571.7" fill="none" stroke="#1a1a1a" stroke-width="1.1" />
<path d="M64.4,571.7 C66,569.5 68,569.2 69.5,569.6 C72,570.5 74,572.3 76.5,572.3 C90,572 110,571.3 126.3,572.4" fill="none" stroke="#1a1a1a" stroke-width="1.1" />
<path d="M126.3,572.6 L127.4,572.6 L127.4,583.6 M128.7,583.6 L128.7,572.8 L133.5,572.8 Q134.4,572.9 134.7,574.3" fill="none" stroke="#1a1a1a" stroke-width="1.0" />
<path d="M134.7,574.3 C135.8,600 136.8,618.3 139.7,618.3 C142.5,618.3 145,600 148.3,590.5 C151,582 154,573 157,570 C159.5,567.6 161.8,566.7 163.2,566.8" fill="none" stroke="#1a1a1a" stroke-width="1.1" />
<path d="M134.7,574.3 C135.6,605 136.6,633.2 139,633.2 C141.5,633.2 145.5,605 149.3,589 C152,579 154.5,572.5 157.2,569.8 C159.5,567.6 161.8,566.6 163.2,566.6" fill="none" stroke="#1a1a1a" stroke-width="1.1" />
<path d="M134.7,574.3 C135.5,610 136.6,638.2 139,638.2 C141.6,638.2 146,608 150,587.5 C152.3,577.5 155,571.8 157.4,569.6 C159.6,567.6 161.8,566.5 163.2,566.4" fill="none" stroke="#1a1a1a" stroke-width="1.1" />
<path d="M163.2,566.6 L161.5,567.3" fill="none" stroke="#1a1a1a" stroke-width="1.0" />
<text x="29.10" y="594.50" font-size="10.5" font-weight="normal" font-style="normal" text-anchor="start" fill="#1a1a1a" font-family="Liberation Sans" >St.</text>
<text x="119.20" y="594.10" font-size="10.5" font-weight="normal" font-style="normal" text-anchor="start" fill="#1a1a1a" font-family="Liberation Sans" >St.</text>
<text x="75.80" y="603.00" font-size="9.8" font-weight="normal" font-style="normal" text-anchor="start" fill="#1a1a1a" font-family="Liberation Sans" >B</text>
<text x="75.80" y="612.60" font-size="9.8" font-weight="normal" font-style="normal" text-anchor="start" fill="#1a1a1a" font-family="Liberation Sans" >D5</text>
<text x="75.80" y="637.30" font-size="9.8" font-weight="normal" font-style="normal" text-anchor="start" fill="#1a1a1a" font-family="Liberation Sans" >D1</text>
<text x="112.40" y="608.40" font-size="9.8" font-weight="normal" font-style="normal" text-anchor="start" fill="#1a1a1a" font-family="Liberation Sans" >B</text>
<text x="106.80" y="622.00" font-size="9.8" font-weight="normal" font-style="normal" text-anchor="start" fill="#1a1a1a" font-family="Liberation Sans" >D5</text>
<text x="107.40" y="632.00" font-size="9.8" font-weight="normal" font-style="normal" text-anchor="start" fill="#1a1a1a" font-family="Liberation Sans" >D1</text>
<line x1="61.50" y1="592.70" x2="74.30" y2="600.30" stroke="#444" stroke-width="0.6" />
<line x1="60.90" y1="600.90" x2="74.30" y2="607.90" stroke="#444" stroke-width="0.6" />
<line x1="57.40" y1="623.10" x2="74.30" y2="633.00" stroke="#444" stroke-width="0.6" />
<line x1="120.40" y1="605.30" x2="132.80" y2="613.30" stroke="#444" stroke-width="0.6" />
<line x1="120.40" y1="619.30" x2="133.50" y2="627.00" stroke="#444" stroke-width="0.6" />
<line x1="121.00" y1="628.90" x2="134.70" y2="637.50" stroke="#444" stroke-width="0.6" />
<path d="M173.8,587 L176.3,587 L176.3,607.8 L173.8,607.8" fill="none" stroke="#333" stroke-width="1.0" />
<text transform="translate(171.4,597.8) rotate(-90)" font-size="10" text-anchor="middle" fill="#1a1a1a" font-family="Liberation Sans">0.2 mV</text>
<path d="M152.7,637.2 L152.7,638.8 L175.6,638.8 L175.6,637.2" fill="none" stroke="#333" stroke-width="1.0" />
<text x="151.20" y="634.40" font-size="9.6" font-weight="normal" font-style="normal" text-anchor="start" fill="#1a1a1a" font-family="Liberation Sans" >10 ms</text>
<text x="14.90" y="683.80" font-size="21.8" font-weight="normal" font-style="normal" text-anchor="start" fill="#111" font-family="Liberation Sans" >f</text>
<text x="81.50" y="692.80" font-size="14" font-weight="bold" font-style="italic" text-anchor="start" fill="#111" font-family="Liberation Sans" >Prnp</text>
<text x="113.20" y="684.00" font-size="8.4" font-weight="bold" font-style="italic" text-anchor="start" fill="#111" font-family="Liberation Sans" >ZH3/ZH3</text>
<path d="M25.1,711.0 L30,710.8 L35.6,711.0 L35.6,719.3 M36.9,719.3 L36.9,710.9 L37.8,710.9 Q40.6,711.2 42.0,714.2" fill="none" stroke="#1a1a1a" stroke-width="1.4" />
<path d="M42.0,714.2 C43.0,721 44.5,730.6 46.3,730.6 C48.5,730.6 53,722 57,718.5 C60,716 63,714.5 66,713.5" fill="none" stroke="#1a1a1a" stroke-width="1.1" />
<path d="M42.0,714.2 C43.0,723 44.8,733.9 46.6,733.9 C48.8,733.9 53.5,723 57.5,719 C60.5,716 63.5,714.4 66,713.5" fill="none" stroke="#1a1a1a" stroke-width="1.1" />
<path d="M42.0,714.2 C43.2,727 45.4,743.8 47.5,743.8 C50,743.8 54.5,727 58.5,720 C61,716 63.6,714.3 66,713.5" fill="none" stroke="#1a1a1a" stroke-width="1.1" />
<path d="M66,713.5 C70,712.2 75,712.0 80,712.6 C90,713.6 105,716.5 116,717.2 C121,717.6 124,718 126.6,718" fill="none" stroke="#1a1a1a" stroke-width="1.4" />
<path d="M116,717.2 C120,716.5 124,715 126.3,713" fill="none" stroke="#1a1a1a" stroke-width="0.9" />
<path d="M126.6,713 L126.6,727.9" fill="none" stroke="#1a1a1a" stroke-width="1.6" />
<path d="M126.6,718.2 L129.5,718.3 Q131.8,718.6 133.5,722.3" fill="none" stroke="#1a1a1a" stroke-width="1.2" />
<path d="M133.5,722.3 C134.8,730 136.2,739.7 137.8,739.7 C140.5,739.7 150,725 156,719 C158.5,716.5 160.5,714.4 163.2,713.2" fill="none" stroke="#1a1a1a" stroke-width="1.1" />
<path d="M133.5,722.3 C134.8,734 136.2,747.8 137.8,747.8 C140.8,747.8 151,726 156.5,719 C159,716 161,714.2 163.2,713.2" fill="none" stroke="#1a1a1a" stroke-width="1.1" />
<path d="M133.5,722.3 C135,745 136.6,768.2 138.4,768.2 C141.5,768.2 152,730 157.5,719.5 C159.5,716 161.2,714.1 163.2,713.2" fill="none" stroke="#1a1a1a" stroke-width="1.1" />
<text x="27.90" y="731.80" font-size="10.5" font-weight="normal" font-style="normal" text-anchor="start" fill="#1a1a1a" font-family="Liberation Sans" >St.</text>
<text x="118.00" y="738.50" font-size="10.5" font-weight="normal" font-style="normal" text-anchor="start" fill="#1a1a1a" font-family="Liberation Sans" >St.</text>
<text x="72.80" y="733.30" font-size="9.8" font-weight="normal" font-style="normal" text-anchor="start" fill="#1a1a1a" font-family="Liberation Sans" >D5</text>
<text x="72.80" y="744.40" font-size="9.8" font-weight="normal" font-style="normal" text-anchor="start" fill="#1a1a1a" font-family="Liberation Sans" >B</text>
<text x="72.80" y="759.80" font-size="9.8" font-weight="normal" font-style="normal" text-anchor="start" fill="#1a1a1a" font-family="Liberation Sans" >D1</text>
<text x="104.70" y="754.60" font-size="9.8" font-weight="normal" font-style="normal" text-anchor="start" fill="#1a1a1a" font-family="Liberation Sans" >D5</text>
<text x="110.50" y="765.80" font-size="9.8" font-weight="normal" font-style="normal" text-anchor="start" fill="#1a1a1a" font-family="Liberation Sans" >B</text>
<text x="105.50" y="780.60" font-size="9.8" font-weight="normal" font-style="normal" text-anchor="start" fill="#1a1a1a" font-family="Liberation Sans" >D1</text>
<line x1="59.10" y1="724.50" x2="69.10" y2="730.60" stroke="#444" stroke-width="0.6" />
<line x1="56.20" y1="732.10" x2="69.10" y2="740.30" stroke="#444" stroke-width="0.6" />
<line x1="51.30" y1="744.40" x2="69.60" y2="754.90" stroke="#444" stroke-width="0.6" />
<line x1="120.40" y1="750.60" x2="132.20" y2="743.70" stroke="#444" stroke-width="0.6" />
<line x1="119.80" y1="761.00" x2="132.80" y2="754.00" stroke="#444" stroke-width="0.6" />
<line x1="120.40" y1="777.20" x2="135.30" y2="768.00" stroke="#444" stroke-width="0.6" />
<path d="M171.9,733.5 L174.4,733.5 L174.4,754.6 L171.9,754.6" fill="none" stroke="#333" stroke-width="1.0" />
<text transform="translate(170.2,744.4) rotate(-90)" font-size="10" text-anchor="middle" fill="#1a1a1a" font-family="Liberation Sans">0.2 mV</text>
<path d="M152.1,783.7 L152.1,785.6 L174.4,785.6 L174.4,783.7" fill="none" stroke="#333" stroke-width="1.0" />
<text x="150.00" y="781.30" font-size="9.6" font-weight="normal" font-style="normal" text-anchor="start" fill="#1a1a1a" font-family="Liberation Sans" >10 ms</text>
<text x="210.70" y="532.60" font-size="22" font-weight="normal" font-style="normal" text-anchor="start" fill="#111" font-family="Liberation Sans" >g</text>
<text x="211.20" y="610.60" font-size="14.0" font-weight="bold" font-style="italic" text-anchor="start" fill="#111" font-family="Liberation Sans" >Prnp</text>
<text x="243.30" y="602.30" font-size="7.8" font-weight="bold" font-style="italic" text-anchor="start" fill="#111" font-family="Liberation Sans" >+/+</text>
<text x="207.30" y="651.60" font-size="11.1" font-weight="normal" font-style="normal" text-anchor="start" fill="#111" font-family="Liberation Sans" >Amplitude (V)</text>
<text x="211.40" y="699.70" font-size="13.9" font-weight="bold" font-style="italic" text-anchor="start" fill="#111" font-family="Liberation Sans" >Prnp</text>
<text x="243.10" y="691.00" font-size="8.1" font-weight="bold" font-style="italic" text-anchor="start" fill="#111" font-family="Liberation Sans" >ZH3/ZH3</text>
<path d="M321.6,569.3 L321.6,567.2 L378.9,567.2 L378.9,569.3" fill="none" stroke="#141210" stroke-width="2.0" />
<text x="351.00" y="563.00" font-size="11.5" font-weight="normal" font-style="normal" text-anchor="middle" fill="#1a1a1a" font-family="Liberation Sans" >HFS</text>
<line x1="291.30" y1="570.50" x2="291.30" y2="646.50" stroke="#555" stroke-width="0.9" />
<line x1="289.70" y1="570.50" x2="291.30" y2="570.50" stroke="#555" stroke-width="0.8" />
<text x="288.70" y="572.60" font-size="6.0" font-weight="normal" font-style="normal" text-anchor="end" fill="#2a2a2a" font-family="Liberation Sans" >1.5</text>
<line x1="289.70" y1="583.17" x2="291.30" y2="583.17" stroke="#555" stroke-width="0.8" />
<text x="288.70" y="585.27" font-size="6.0" font-weight="normal" font-style="normal" text-anchor="end" fill="#2a2a2a" font-family="Liberation Sans" >1.0</text>
<line x1="289.70" y1="595.83" x2="291.30" y2="595.83" stroke="#555" stroke-width="0.8" />
<text x="288.70" y="597.93" font-size="6.0" font-weight="normal" font-style="normal" text-anchor="end" fill="#2a2a2a" font-family="Liberation Sans" >0.5</text>
<line x1="289.70" y1="608.50" x2="291.30" y2="608.50" stroke="#555" stroke-width="0.8" />
<text x="288.70" y="610.60" font-size="6.0" font-weight="normal" font-style="normal" text-anchor="end" fill="#2a2a2a" font-family="Liberation Sans" >0.0</text>
<line x1="289.70" y1="621.17" x2="291.30" y2="621.17" stroke="#555" stroke-width="0.8" />
<text x="288.70" y="623.27" font-size="6.0" font-weight="normal" font-style="normal" text-anchor="end" fill="#2a2a2a" font-family="Liberation Sans" >-0.5</text>
<line x1="289.70" y1="633.83" x2="291.30" y2="633.83" stroke="#555" stroke-width="0.8" />
<text x="288.70" y="635.93" font-size="6.0" font-weight="normal" font-style="normal" text-anchor="end" fill="#2a2a2a" font-family="Liberation Sans" >-1.0</text>
<line x1="289.70" y1="646.50" x2="291.30" y2="646.50" stroke="#555" stroke-width="0.8" />
<text x="288.70" y="648.60" font-size="6.0" font-weight="normal" font-style="normal" text-anchor="end" fill="#2a2a2a" font-family="Liberation Sans" >-1.5</text>
<line x1="290.40" y1="570.50" x2="291.30" y2="570.50" stroke="#777" stroke-width="0.5" />
<line x1="290.40" y1="573.03" x2="291.30" y2="573.03" stroke="#777" stroke-width="0.5" />
<line x1="290.40" y1="575.57" x2="291.30" y2="575.57" stroke="#777" stroke-width="0.5" />
<line x1="290.40" y1="578.10" x2="291.30" y2="578.10" stroke="#777" stroke-width="0.5" />
<line x1="290.40" y1="580.63" x2="291.30" y2="580.63" stroke="#777" stroke-width="0.5" />
<line x1="290.40" y1="583.17" x2="291.30" y2="583.17" stroke="#777" stroke-width="0.5" />
<line x1="290.40" y1="585.70" x2="291.30" y2="585.70" stroke="#777" stroke-width="0.5" />
<line x1="290.40" y1="588.23" x2="291.30" y2="588.23" stroke="#777" stroke-width="0.5" />
<line x1="290.40" y1="590.77" x2="291.30" y2="590.77" stroke="#777" stroke-width="0.5" />
<line x1="290.40" y1="593.30" x2="291.30" y2="593.30" stroke="#777" stroke-width="0.5" />
<line x1="290.40" y1="595.83" x2="291.30" y2="595.83" stroke="#777" stroke-width="0.5" />
<line x1="290.40" y1="598.37" x2="291.30" y2="598.37" stroke="#777" stroke-width="0.5" />
<line x1="290.40" y1="600.90" x2="291.30" y2="600.90" stroke="#777" stroke-width="0.5" />
<line x1="290.40" y1="603.43" x2="291.30" y2="603.43" stroke="#777" stroke-width="0.5" />
<line x1="290.40" y1="605.97" x2="291.30" y2="605.97" stroke="#777" stroke-width="0.5" />
<line x1="290.40" y1="608.50" x2="291.30" y2="608.50" stroke="#777" stroke-width="0.5" />
<line x1="290.40" y1="611.03" x2="291.30" y2="611.03" stroke="#777" stroke-width="0.5" />
<line x1="290.40" y1="613.57" x2="291.30" y2="613.57" stroke="#777" stroke-width="0.5" />
<line x1="290.40" y1="616.10" x2="291.30" y2="616.10" stroke="#777" stroke-width="0.5" />
<line x1="290.40" y1="618.63" x2="291.30" y2="618.63" stroke="#777" stroke-width="0.5" />
<line x1="290.40" y1="621.17" x2="291.30" y2="621.17" stroke="#777" stroke-width="0.5" />
<line x1="290.40" y1="623.70" x2="291.30" y2="623.70" stroke="#777" stroke-width="0.5" />
<line x1="290.40" y1="626.23" x2="291.30" y2="626.23" stroke="#777" stroke-width="0.5" />
<line x1="290.40" y1="628.77" x2="291.30" y2="628.77" stroke="#777" stroke-width="0.5" />
<line x1="290.40" y1="631.30" x2="291.30" y2="631.30" stroke="#777" stroke-width="0.5" />
<line x1="290.40" y1="633.83" x2="291.30" y2="633.83" stroke="#777" stroke-width="0.5" />
<line x1="290.40" y1="636.37" x2="291.30" y2="636.37" stroke="#777" stroke-width="0.5" />
<line x1="290.40" y1="638.90" x2="291.30" y2="638.90" stroke="#777" stroke-width="0.5" />
<line x1="290.40" y1="641.43" x2="291.30" y2="641.43" stroke="#777" stroke-width="0.5" />
<line x1="290.40" y1="643.97" x2="291.30" y2="643.97" stroke="#777" stroke-width="0.5" />
<line x1="290.40" y1="646.50" x2="291.30" y2="646.50" stroke="#777" stroke-width="0.5" />
<line x1="291.90" y1="654.00" x2="291.90" y2="729.90" stroke="#555" stroke-width="0.9" />
<line x1="290.30" y1="654.00" x2="291.90" y2="654.00" stroke="#555" stroke-width="0.8" />
<text x="289.30" y="656.10" font-size="6.0" font-weight="normal" font-style="normal" text-anchor="end" fill="#2a2a2a" font-family="Liberation Sans" >1.5</text>
<line x1="290.30" y1="666.65" x2="291.90" y2="666.65" stroke="#555" stroke-width="0.8" />
<text x="289.30" y="668.75" font-size="6.0" font-weight="normal" font-style="normal" text-anchor="end" fill="#2a2a2a" font-family="Liberation Sans" >1.0</text>
<line x1="290.30" y1="679.30" x2="291.90" y2="679.30" stroke="#555" stroke-width="0.8" />
<text x="289.30" y="681.40" font-size="6.0" font-weight="normal" font-style="normal" text-anchor="end" fill="#2a2a2a" font-family="Liberation Sans" >0.5</text>
<line x1="290.30" y1="691.95" x2="291.90" y2="691.95" stroke="#555" stroke-width="0.8" />
<text x="289.30" y="694.05" font-size="6.0" font-weight="normal" font-style="normal" text-anchor="end" fill="#2a2a2a" font-family="Liberation Sans" >0.0</text>
<line x1="290.30" y1="704.60" x2="291.90" y2="704.60" stroke="#555" stroke-width="0.8" />
<text x="289.30" y="706.70" font-size="6.0" font-weight="normal" font-style="normal" text-anchor="end" fill="#2a2a2a" font-family="Liberation Sans" >-0.5</text>
<line x1="290.30" y1="717.25" x2="291.90" y2="717.25" stroke="#555" stroke-width="0.8" />
<text x="289.30" y="719.35" font-size="6.0" font-weight="normal" font-style="normal" text-anchor="end" fill="#2a2a2a" font-family="Liberation Sans" >-1.0</text>
<line x1="290.30" y1="729.90" x2="291.90" y2="729.90" stroke="#555" stroke-width="0.8" />
<text x="289.30" y="732.00" font-size="6.0" font-weight="normal" font-style="normal" text-anchor="end" fill="#2a2a2a" font-family="Liberation Sans" >-1.5</text>
<line x1="291.00" y1="654.00" x2="291.90" y2="654.00" stroke="#777" stroke-width="0.5" />
<line x1="291.00" y1="656.53" x2="291.90" y2="656.53" stroke="#777" stroke-width="0.5" />
<line x1="291.00" y1="659.06" x2="291.90" y2="659.06" stroke="#777" stroke-width="0.5" />
<line x1="291.00" y1="661.59" x2="291.90" y2="661.59" stroke="#777" stroke-width="0.5" />
<line x1="291.00" y1="664.12" x2="291.90" y2="664.12" stroke="#777" stroke-width="0.5" />
<line x1="291.00" y1="666.65" x2="291.90" y2="666.65" stroke="#777" stroke-width="0.5" />
<line x1="291.00" y1="669.18" x2="291.90" y2="669.18" stroke="#777" stroke-width="0.5" />
<line x1="291.00" y1="671.71" x2="291.90" y2="671.71" stroke="#777" stroke-width="0.5" />
<line x1="291.00" y1="674.24" x2="291.90" y2="674.24" stroke="#777" stroke-width="0.5" />
<line x1="291.00" y1="676.77" x2="291.90" y2="676.77" stroke="#777" stroke-width="0.5" />
<line x1="291.00" y1="679.30" x2="291.90" y2="679.30" stroke="#777" stroke-width="0.5" />
<line x1="291.00" y1="681.83" x2="291.90" y2="681.83" stroke="#777" stroke-width="0.5" />
<line x1="291.00" y1="684.36" x2="291.90" y2="684.36" stroke="#777" stroke-width="0.5" />
<line x1="291.00" y1="686.89" x2="291.90" y2="686.89" stroke="#777" stroke-width="0.5" />
<line x1="291.00" y1="689.42" x2="291.90" y2="689.42" stroke="#777" stroke-width="0.5" />
<line x1="291.00" y1="691.95" x2="291.90" y2="691.95" stroke="#777" stroke-width="0.5" />
<line x1="291.00" y1="694.48" x2="291.90" y2="694.48" stroke="#777" stroke-width="0.5" />
<line x1="291.00" y1="697.01" x2="291.90" y2="697.01" stroke="#777" stroke-width="0.5" />
<line x1="291.00" y1="699.54" x2="291.90" y2="699.54" stroke="#777" stroke-width="0.5" />
<line x1="291.00" y1="702.07" x2="291.90" y2="702.07" stroke="#777" stroke-width="0.5" />
<line x1="291.00" y1="704.60" x2="291.90" y2="704.60" stroke="#777" stroke-width="0.5" />
<line x1="291.00" y1="707.13" x2="291.90" y2="707.13" stroke="#777" stroke-width="0.5" />
<line x1="291.00" y1="709.66" x2="291.90" y2="709.66" stroke="#777" stroke-width="0.5" />
<line x1="291.00" y1="712.19" x2="291.90" y2="712.19" stroke="#777" stroke-width="0.5" />
<line x1="291.00" y1="714.72" x2="291.90" y2="714.72" stroke="#777" stroke-width="0.5" />
<line x1="291.00" y1="717.25" x2="291.90" y2="717.25" stroke="#777" stroke-width="0.5" />
<line x1="291.00" y1="719.78" x2="291.90" y2="719.78" stroke="#777" stroke-width="0.5" />
<line x1="291.00" y1="722.31" x2="291.90" y2="722.31" stroke="#777" stroke-width="0.5" />
<line x1="291.00" y1="724.84" x2="291.90" y2="724.84" stroke="#777" stroke-width="0.5" />
<line x1="291.00" y1="727.37" x2="291.90" y2="727.37" stroke="#777" stroke-width="0.5" />
<line x1="291.00" y1="729.90" x2="291.90" y2="729.90" stroke="#777" stroke-width="0.5" />
<line x1="291.90" y1="734.40" x2="675.10" y2="734.40" stroke="#333" stroke-width="1.0" />
<line x1="291.90" y1="741.50" x2="675.10" y2="741.50" stroke="#444" stroke-width="0.9" />
<line x1="292.60" y1="741.50" x2="292.60" y2="743.20" stroke="#555" stroke-width="0.6" />
<line x1="305.04" y1="741.50" x2="305.04" y2="742.60" stroke="#555" stroke-width="0.6" />
<line x1="317.48" y1="741.50" x2="317.48" y2="742.60" stroke="#555" stroke-width="0.6" />
<line x1="329.92" y1="741.50" x2="329.92" y2="742.60" stroke="#555" stroke-width="0.6" />
<line x1="342.36" y1="741.50" x2="342.36" y2="742.60" stroke="#555" stroke-width="0.6" />
<line x1="354.80" y1="741.50" x2="354.80" y2="743.20" stroke="#555" stroke-width="0.6" />
<line x1="367.24" y1="741.50" x2="367.24" y2="742.60" stroke="#555" stroke-width="0.6" />
<line x1="379.68" y1="741.50" x2="379.68" y2="742.60" stroke="#555" stroke-width="0.6" />
<line x1="392.12" y1="741.50" x2="392.12" y2="742.60" stroke="#555" stroke-width="0.6" />
<line x1="404.56" y1="741.50" x2="404.56" y2="742.60" stroke="#555" stroke-width="0.6" />
<line x1="417.00" y1="741.50" x2="417.00" y2="743.20" stroke="#555" stroke-width="0.6" />
<line x1="429.44" y1="741.50" x2="429.44" y2="742.60" stroke="#555" stroke-width="0.6" />
<line x1="441.88" y1="741.50" x2="441.88" y2="742.60" stroke="#555" stroke-width="0.6" />
<line x1="454.32" y1="741.50" x2="454.32" y2="742.60" stroke="#555" stroke-width="0.6" />
<line x1="466.76" y1="741.50" x2="466.76" y2="742.60" stroke="#555" stroke-width="0.6" />
<line x1="479.20" y1="741.50" x2="479.20" y2="743.20" stroke="#555" stroke-width="0.6" />
<line x1="491.64" y1="741.50" x2="491.64" y2="742.60" stroke="#555" stroke-width="0.6" />
<line x1="504.08" y1="741.50" x2="504.08" y2="742.60" stroke="#555" stroke-width="0.6" />
<line x1="516.52" y1="741.50" x2="516.52" y2="742.60" stroke="#555" stroke-width="0.6" />
<line x1="528.96" y1="741.50" x2="528.96" y2="742.60" stroke="#555" stroke-width="0.6" />
<line x1="541.40" y1="741.50" x2="541.40" y2="743.20" stroke="#555" stroke-width="0.6" />
<line x1="553.84" y1="741.50" x2="553.84" y2="742.60" stroke="#555" stroke-width="0.6" />
<line x1="566.28" y1="741.50" x2="566.28" y2="742.60" stroke="#555" stroke-width="0.6" />
<line x1="578.72" y1="741.50" x2="578.72" y2="742.60" stroke="#555" stroke-width="0.6" />
<line x1="591.16" y1="741.50" x2="591.16" y2="742.60" stroke="#555" stroke-width="0.6" />
<line x1="603.60" y1="741.50" x2="603.60" y2="743.20" stroke="#555" stroke-width="0.6" />
<line x1="616.04" y1="741.50" x2="616.04" y2="742.60" stroke="#555" stroke-width="0.6" />
<line x1="628.48" y1="741.50" x2="628.48" y2="742.60" stroke="#555" stroke-width="0.6" />
<line x1="640.92" y1="741.50" x2="640.92" y2="742.60" stroke="#555" stroke-width="0.6" />
<line x1="653.36" y1="741.50" x2="653.36" y2="742.60" stroke="#555" stroke-width="0.6" />
<line x1="665.80" y1="741.50" x2="665.80" y2="743.20" stroke="#555" stroke-width="0.6" />
<text x="292.60" y="751.00" font-size="6.2" font-weight="normal" font-style="normal" text-anchor="middle" fill="#333" font-family="Liberation Sans" >0</text>
<text x="354.80" y="751.00" font-size="6.2" font-weight="normal" font-style="normal" text-anchor="middle" fill="#333" font-family="Liberation Sans" >5</text>
<text x="417.00" y="751.00" font-size="6.2" font-weight="normal" font-style="normal" text-anchor="middle" fill="#333" font-family="Liberation Sans" >10</text>
<text x="479.20" y="751.00" font-size="6.2" font-weight="normal" font-style="normal" text-anchor="middle" fill="#333" font-family="Liberation Sans" >15</text>
<text x="541.40" y="751.00" font-size="6.2" font-weight="normal" font-style="normal" text-anchor="middle" fill="#333" font-family="Liberation Sans" >20</text>
<text x="603.60" y="751.00" font-size="6.2" font-weight="normal" font-style="normal" text-anchor="middle" fill="#333" font-family="Liberation Sans" >25</text>
<text x="665.80" y="751.00" font-size="6.2" font-weight="normal" font-style="normal" text-anchor="middle" fill="#333" font-family="Liberation Sans" >30</text>
<text x="456.10" y="770.30" font-size="14.2" font-weight="normal" font-style="normal" text-anchor="start" fill="#111" font-family="Liberation Sans" >Time (s)</text>
<line x1="325.50" y1="731.50" x2="325.50" y2="736.20" stroke="#141210" stroke-width="1.9" />
<line x1="337.80" y1="731.50" x2="337.80" y2="736.20" stroke="#141210" stroke-width="1.9" />
<line x1="350.30" y1="731.50" x2="350.30" y2="736.20" stroke="#141210" stroke-width="1.9" />
<line x1="362.70" y1="731.50" x2="362.70" y2="736.20" stroke="#141210" stroke-width="1.9" />
<line x1="375.00" y1="731.50" x2="375.00" y2="736.20" stroke="#141210" stroke-width="1.9" />
<path d="M291.5,609.7 L291.7,609.8 L291.9,609.2 L292.0,608.4 L292.2,608.9 L292.4,608.4 L292.6,609.8 L292.8,611.0 L292.9,608.3 L293.1,608.0 L293.3,609.6 L293.5,610.2 L293.7,609.6 L293.8,608.2 L294.0,609.4 L294.2,610.3 L294.4,607.5 L294.6,609.5 L294.7,607.3 L294.9,608.7 L295.1,607.6 L295.3,609.4 L295.5,608.3 L295.6,610.5 L295.8,610.2 L296.0,609.5 L296.2,606.2 L296.4,608.6 L296.5,609.7 L296.7,609.4 L296.9,607.4 L297.1,608.9 L297.3,608.1 L297.4,608.3 L297.6,611.2 L297.8,608.9 L298.0,610.2 L298.2,611.6 L298.3,609.7 L298.5,610.2 L298.7,610.7 L298.9,610.5 L299.1,608.6 L299.2,610.1 L299.4,611.2 L299.6,607.1 L299.8,610.1 L300.0,609.1 L300.1,607.4 L300.3,611.6 L300.5,609.8 L300.7,607.1 L300.9,608.8 L301.0,609.5 L301.2,608.6 L301.4,609.7 L301.6,608.8 L301.8,609.7 L301.9,610.7 L302.1,607.6 L302.3,608.6 L302.5,607.7 L302.7,609.0 L302.8,607.5 L303.0,608.4 L303.2,608.8 L303.4,610.0 L303.6,610.1 L303.7,607.1 L303.9,607.7 L304.1,609.8 L304.3,606.1 L304.5,607.9 L304.6,608.5 L304.8,610.3 L305.0,609.7 L305.2,608.5 L305.4,608.9 L305.5,608.7 L305.7,611.1 L305.9,608.2 L306.1,608.2 L306.3,609.1 L306.4,608.7 L306.6,608.6 L306.8,607.6 L307.0,609.2 L307.2,608.3 L307.3,610.6 L307.5,610.1 L307.7,609.3 L307.9,610.8 L308.1,609.0 L308.2,610.5 L308.4,609.3 L308.6,609.8 L308.8,607.3 L309.0,609.9 L309.1,607.2 L309.3,606.8 L309.5,609.4 L309.7,607.9 L309.9,610.0 L310.0,613.1 L310.2,609.1 L310.4,609.6 L310.6,610.5 L310.8,610.7 L310.9,609.6 L311.1,609.4 L311.3,610.7 L311.5,610.6 L311.7,608.3 L311.8,608.8 L312.0,608.7 L312.2,607.1 L312.4,609.0 L312.6,607.4 L312.7,610.3 L312.9,609.2 L313.1,608.7 L313.3,607.8 L313.5,608.6 L313.6,606.8 L313.8,608.1 L314.0,609.9 L314.2,606.6 L314.4,611.0 L314.5,607.0 L314.7,610.8 L314.9,609.1 L315.1,611.5 L315.3,610.5 L315.4,608.0 L315.6,612.0 L315.8,612.2 L316.0,610.4 L316.2,609.9 L316.3,610.1 L316.5,608.7 L316.7,611.2 L316.9,608.8 L317.1,609.1 L317.2,607.8 L317.4,608.0 L317.6,607.6 L317.8,611.0 L318.0,609.3 L318.1,610.9 L318.3,609.6 L318.5,608.7 L318.7,609.2 L318.9,609.0 L319.0,609.9 L319.2,609.1 L319.4,608.7 L319.6,607.2 L319.8,607.7 L319.9,611.3 L320.1,608.1 L320.3,607.5 L320.5,609.6 L320.7,611.2 L320.8,607.2 L321.0,608.9 L321.2,608.6 L321.4,607.2 L321.6,610.8 L321.7,609.3 L321.9,609.3 L322.1,608.2 L322.3,609.9 L322.5,608.5 L322.6,609.0 L322.8,607.9 L323.0,607.7 L323.2,610.8 L323.4,608.3 L323.5,609.9 L323.7,609.4 L323.9,609.1 L324.1,608.8 L324.3,610.7 L324.4,609.5 L324.6,609.4 L324.8,609.5 L325.0,611.1 L325.2,610.3 L325.3,609.7 L325.5,608.5 L325.7,607.2 L325.9,609.8 L326.1,609.6 L326.2,607.8 L326.4,609.0 L326.6,609.6 L326.8,609.8 L327.0,609.8 L327.1,607.9 L327.3,610.5 L327.5,606.8 L327.7,610.2 L327.9,609.5 L328.0,610.6 L328.2,611.9 L328.4,611.3 L328.6,607.7 L328.8,607.0 L328.9,610.4 L329.1,608.1 L329.3,609.7 L329.5,611.0 L329.7,607.7 L329.8,606.7 L330.0,610.2 L330.2,609.7 L330.4,609.3 L330.6,609.9 L330.7,608.9 L330.9,608.0 L331.1,609.6 L331.3,608.9 L331.5,608.2 L331.6,611.4 L331.8,610.3 L332.0,610.7 L332.2,608.6 L332.4,608.9 L332.5,608.3 L332.7,608.3 L332.9,609.6 L333.1,607.6 L333.3,609.0 L333.4,608.6 L333.6,611.1 L333.8,607.0 L334.0,610.8 L334.2,609.6 L334.3,612.1 L334.5,607.4 L334.7,608.3 L334.9,610.1 L335.1,609.0 L335.2,609.7 L335.4,609.1 L335.6,611.0 L335.8,608.9 L336.0,606.0 L336.1,608.4 L336.3,606.6 L336.5,605.4 L336.7,608.9 L336.9,611.8 L337.0,610.1 L337.2,608.5 L337.4,608.5 L337.6,611.3 L337.8,609.8 L337.9,609.4 L338.1,611.8 L338.3,609.7 L338.5,610.9 L338.7,610.4 L338.8,609.8 L339.0,607.9 L339.2,610.2 L339.4,608.5 L339.6,611.1 L339.7,607.8 L339.9,609.4 L340.1,609.4 L340.3,607.5 L340.5,611.6 L340.6,611.0 L340.8,608.6 L341.0,610.3 L341.2,609.6 L341.4,605.2 L341.5,609.1 L341.7,608.4 L341.9,608.5 L342.1,607.3 L342.3,608.2 L342.4,608.6 L342.6,610.2 L342.8,609.1 L343.0,608.8 L343.2,611.0 L343.3,608.4 L343.5,608.8 L343.7,607.0 L343.9,611.2 L344.1,610.5 L344.2,610.4 L344.4,610.1 L344.6,609.2 L344.8,609.5 L345.0,609.3 L345.1,609.3 L345.3,609.7 L345.5,611.8 L345.7,610.2 L345.9,609.4 L346.0,608.5 L346.2,608.7 L346.4,611.8 L346.6,610.1 L346.8,609.0 L346.9,608.5 L347.1,607.4 L347.3,608.7 L347.5,610.2 L347.7,608.4 L347.8,608.9 L348.0,609.0 L348.2,609.6 L348.4,607.5 L348.6,609.6 L348.7,608.9 L348.9,611.7 L349.1,609.6 L349.3,611.7 L349.5,613.0 L349.6,610.5 L349.8,609.8 L350.0,610.7 L350.2,610.3 L350.4,608.4 L350.5,610.0 L350.7,611.5 L350.9,608.2 L351.1,608.3 L351.3,606.8 L351.4,608.8 L351.6,606.7 L351.8,606.9 L352.0,610.6 L352.2,608.3 L352.3,610.9 L352.5,612.1 L352.7,610.4 L352.9,610.9 L353.1,613.3 L353.2,610.1 L353.4,609.3 L353.6,608.1 L353.8,609.6 L354.0,611.2 L354.1,610.4 L354.3,607.5 L354.5,607.6 L354.7,608.0 L354.9,609.0 L355.0,608.1 L355.2,608.6 L355.4,608.8 L355.6,608.1 L355.8,608.4 L355.9,609.1 L356.1,608.9 L356.3,609.6 L356.5,611.5 L356.7,609.8 L356.8,609.3 L357.0,607.3 L357.2,610.3 L357.4,607.2 L357.6,608.0 L357.7,611.0 L357.9,611.0 L358.1,610.0 L358.3,608.0 L358.5,609.8 L358.6,609.5 L358.8,611.3 L359.0,613.4 L359.2,610.2 L359.4,609.1 L359.5,608.5 L359.7,609.6 L359.9,609.3 L360.1,607.7 L360.3,609.7 L360.4,608.0 L360.6,610.6 L360.8,610.6 L361.0,610.9 L361.2,608.9 L361.3,610.1 L361.5,609.0 L361.7,608.7 L361.9,608.9 L362.1,607.1 L362.2,606.4 L362.4,609.8 L362.6,608.7 L362.8,609.0 L363.0,609.9 L363.1,606.3 L363.3,608.4 L363.5,609.8 L363.7,610.1 L363.9,609.3 L364.0,611.7 L364.2,610.4 L364.4,608.3 L364.6,608.9 L364.8,610.8 L364.9,610.8 L365.1,607.1 L365.3,611.3 L365.5,610.4 L365.7,610.9 L365.8,608.2 L366.0,608.4 L366.2,607.0 L366.4,612.1 L366.6,608.9 L366.7,610.9 L366.9,608.0 L367.1,609.3 L367.3,606.6 L367.5,608.6 L367.6,610.5 L367.8,607.8 L368.0,611.1 L368.2,610.1 L368.4,607.8 L368.5,608.7 L368.7,611.7 L368.9,609.1 L369.1,608.6 L369.3,608.0 L369.4,609.0 L369.6,608.0 L369.8,607.5 L370.0,609.3 L370.2,610.8 L370.3,607.4 L370.5,609.7 L370.7,608.5 L370.9,608.0 L371.1,610.6 L371.2,608.9 L371.4,611.7 L371.6,608.7 L371.8,610.4 L372.0,609.6 L372.1,609.0 L372.3,611.0 L372.5,610.1 L372.7,611.7 L372.9,610.9 L373.0,609.0 L373.2,610.3 L373.4,610.5 L373.6,611.3 L373.8,608.3 L373.9,609.6 L374.1,607.3 L374.3,610.6 L374.5,608.0 L374.7,607.3 L374.8,609.8 L375.0,611.3 L375.2,607.7 L375.4,608.3 L375.6,609.5 L375.7,608.9 L375.9,610.5 L376.1,608.8 L376.3,608.7 L376.5,610.1 L376.6,608.3 L376.8,609.7 L377.0,607.7 L377.2,607.2 L377.4,606.5 L377.5,611.1 L377.7,610.1 L377.9,609.3 L378.1,609.0 L378.3,609.2 L378.4,608.9 L378.6,611.6 L378.8,608.0 L379.0,607.4 L379.2,607.6 L379.3,607.6 L379.5,610.6 L379.7,610.6 L379.9,608.0 L380.1,607.7 L380.2,609.2 L380.4,611.7 L380.6,605.6 L380.8,610.3 L381.0,608.3 L381.1,610.8 L381.3,607.8 L381.5,608.8 L381.7,607.1 L381.9,607.9 L382.0,610.8 L382.2,609.9 L382.4,608.5 L382.6,607.9 L382.8,606.7 L382.9,608.8 L383.1,608.9 L383.3,608.9 L383.5,609.0 L383.7,608.0 L383.8,609.8 L384.0,609.6 L384.2,611.5 L384.4,612.1 L384.6,608.9 L384.7,608.7 L384.9,610.0 L385.1,609.4 L385.3,609.2 L385.5,610.1 L385.6,608.7 L385.8,611.3 L386.0,610.0 L386.2,610.4 L386.4,610.3 L386.5,609.4 L386.7,609.1 L386.9,610.0 L387.1,609.5 L387.3,610.1 L387.4,610.0 L387.6,608.1 L387.8,610.3 L388.0,608.7 L388.2,609.6 L388.3,609.9 L388.5,607.5 L388.7,610.2 L388.9,610.3 L389.1,610.4 L389.2,609.7 L389.4,609.6 L389.6,608.9 L389.8,609.9 L390.0,609.5 L390.1,610.0 L390.3,608.2 L390.5,610.1 L390.7,609.8 L390.9,609.1 L391.0,608.7 L391.2,610.2 L391.4,607.6 L391.6,610.5 L391.8,610.2 L391.9,610.4 L392.1,610.3 L392.3,608.9 L392.5,609.5 L392.7,610.4 L392.8,610.1 L393.0,609.6 L393.2,606.5 L393.4,608.9 L393.6,609.4 L393.7,609.4 L393.9,608.5 L394.1,606.4 L394.3,610.1 L394.5,608.8 L394.6,605.8 L394.8,609.5 L395.0,607.6 L395.2,608.3 L395.4,609.4 L395.5,614.7 L395.7,609.5 L395.9,609.9 L396.1,611.5 L396.3,611.5 L396.4,609.1 L396.6,609.1 L396.8,607.5 L397.0,607.9 L397.2,609.5 L397.3,609.5 L397.5,608.9 L397.7,610.5 L397.9,608.1 L398.1,609.3 L398.2,610.2 L398.4,610.5 L398.6,610.8 L398.8,610.2 L399.0,608.9 L399.1,609.7 L399.3,608.0 L399.5,607.2 L399.7,610.2 L399.9,609.2 L400.0,609.6 L400.2,606.6 L400.4,608.6 L400.6,608.3 L400.8,607.9 L400.9,606.5 L401.1,609.2 L401.3,610.6 L401.5,610.0 L401.7,608.1 L401.8,608.8 L402.0,610.0 L402.2,605.1 L402.4,608.3 L402.6,609.5 L402.7,609.6 L402.9,610.8 L403.1,610.1 L403.3,609.4 L403.5,609.7 L403.6,610.7 L403.8,608.7 L404.0,609.1 L404.2,610.4 L404.4,611.8 L404.5,608.6 L404.7,608.9 L404.9,609.4 L405.1,610.8 L405.3,608.9 L405.4,610.7 L405.6,607.2 L405.8,608.4 L406.0,608.4 L406.2,609.7 L406.3,610.1 L406.5,606.3 L406.7,606.8 L406.9,608.5 L407.1,607.1 L407.2,606.0 L407.4,609.9 L407.6,609.2 L407.8,609.2 L408.0,608.0 L408.1,610.5 L408.3,608.9 L408.5,611.1 L408.7,608.6 L408.9,608.9 L409.0,610.3 L409.2,609.4 L409.4,611.3 L409.6,610.9 L409.8,609.2 L409.9,610.4 L410.1,609.9 L410.3,611.4 L410.5,609.3 L410.7,609.1 L410.8,611.3 L411.0,612.5 L411.2,612.3 L411.4,609.9 L411.6,610.0 L411.7,611.8 L411.9,609.7 L412.1,608.9 L412.3,609.9 L412.5,610.5 L412.6,608.9 L412.8,607.4 L413.0,607.4 L413.2,610.3 L413.4,608.4 L413.5,609.0 L413.7,609.5 L413.9,609.9 L414.1,609.0 L414.3,610.0 L414.4,608.1 L414.6,609.3 L414.8,608.4 L415.0,611.0 L415.2,609.7 L415.3,609.1 L415.5,609.3 L415.7,608.8 L415.9,609.6 L416.1,606.5 L416.2,607.2 L416.4,608.0 L416.6,612.1 L416.8,609.9 L417.0,608.4 L417.1,609.0 L417.3,611.0 L417.5,608.3 L417.7,608.9 L417.9,611.3 L418.0,610.2 L418.2,610.2 L418.4,608.5 L418.6,611.7 L418.8,611.2 L418.9,609.7 L419.1,610.0 L419.3,606.4 L419.5,609.4 L419.7,607.9 L419.8,608.7 L420.0,609.2 L420.2,607.8 L420.4,606.5 L420.6,609.3 L420.7,608.1 L420.9,608.6 L421.1,608.3 L421.3,608.4 L421.5,605.8 L421.6,610.9 L421.8,609.8 L422.0,611.1 L422.2,612.2 L422.4,609.6 L422.5,606.8 L422.7,607.9 L422.9,607.7 L423.1,609.0 L423.3,610.0 L423.4,607.0 L423.6,610.0 L423.8,607.5 L424.0,609.7 L424.2,609.5 L424.3,609.4 L424.5,609.8 L424.7,609.3 L424.9,609.3 L425.1,607.9 L425.2,610.3 L425.4,612.5 L425.6,612.5 L425.8,611.4 L426.0,610.4 L426.1,608.2 L426.3,611.2 L426.5,608.7 L426.7,608.3 L426.9,608.0 L427.0,608.5 L427.2,608.1 L427.4,609.0 L427.6,608.1 L427.8,609.0 L427.9,612.8 L428.1,609.7 L428.3,609.6 L428.5,610.7 L428.7,611.0 L428.8,608.5 L429.0,609.6 L429.2,610.9 L429.4,609.9 L429.6,609.4 L429.7,611.6 L429.9,608.1 L430.1,609.0 L430.3,608.5 L430.5,610.8 L430.6,606.0 L430.8,607.9 L431.0,607.7 L431.2,609.8 L431.4,609.4 L431.5,610.6 L431.7,607.2 L431.9,610.6 L432.1,608.9 L432.3,608.9 L432.4,610.5 L432.6,608.6 L432.8,607.1 L433.0,608.9 L433.2,608.0 L433.3,608.7 L433.5,609.7 L433.7,609.5 L433.9,611.0 L434.1,608.8 L434.2,607.2 L434.4,607.8 L434.6,607.8 L434.8,607.3 L435.0,609.2 L435.1,608.0 L435.3,606.1 L435.5,609.9 L435.7,608.9 L435.9,609.5 L436.0,609.1 L436.2,610.2 L436.4,609.4 L436.6,611.0 L436.8,609.8 L436.9,609.9 L437.1,610.2 L437.3,607.9 L437.5,610.0 L437.7,609.7 L437.8,610.3 L438.0,608.1 L438.2,612.3 L438.4,610.6 L438.6,609.2 L438.7,608.2 L438.9,609.9 L439.1,610.0 L439.3,609.0 L439.5,610.0 L439.6,609.2 L439.8,610.7 L440.0,608.9 L440.2,609.5 L440.4,610.4 L440.5,612.8 L440.7,607.9 L440.9,608.3 L441.1,607.6 L441.3,609.9 L441.4,607.1 L441.6,608.1 L441.8,608.4 L442.0,607.2 L442.2,607.3 L442.3,607.9 L442.5,606.0 L442.7,607.0 L442.9,608.9 L443.1,609.6 L443.2,609.3 L443.4,607.1 L443.6,609.2 L443.8,611.1 L444.0,611.2 L444.1,610.1 L444.3,609.1 L444.5,611.2 L444.7,609.4 L444.9,608.6 L445.0,608.8 L445.2,611.6 L445.4,610.3 L445.6,611.4 L445.8,608.7 L445.9,611.0 L446.1,608.6 L446.3,608.8 L446.5,611.8 L446.7,609.1 L446.8,607.6 L447.0,608.4 L447.2,608.6 L447.4,609.8 L447.6,607.9 L447.7,605.7 L447.9,607.7 L448.1,608.3 L448.3,608.6 L448.5,610.4 L448.6,609.0 L448.8,609.6 L449.0,606.8 L449.2,609.4 L449.4,611.3 L449.5,609.7 L449.7,608.7 L449.9,608.8 L450.1,611.3 L450.3,607.8 L450.4,608.8 L450.6,609.8 L450.8,610.3 L451.0,608.6 L451.2,609.1 L451.3,608.5 L451.5,609.4 L451.7,609.2 L451.9,607.7 L452.1,609.3 L452.2,610.7 L452.4,608.2 L452.6,609.1 L452.8,610.2 L453.0,608.1 L453.1,609.6 L453.3,607.7 L453.5,610.6 L453.7,612.1 L453.9,611.4 L454.0,608.6 L454.2,609.3 L454.4,608.9 L454.6,609.6 L454.8,611.4 L454.9,607.7 L455.1,611.1 L455.3,610.0 L455.5,611.8 L455.7,612.3 L455.8,608.8 L456.0,610.7 L456.2,611.2 L456.4,609.9 L456.6,610.5 L456.7,609.1 L456.9,606.7 L457.1,610.3 L457.3,610.2 L457.5,609.5 L457.6,609.2 L457.8,610.7 L458.0,608.6 L458.2,607.9 L458.4,608.9 L458.5,610.6 L458.7,607.3 L458.9,610.9 L459.1,608.5 L459.3,607.9 L459.4,611.2 L459.6,609.1 L459.8,607.9 L460.0,609.0 L460.2,610.6 L460.3,611.1 L460.5,608.7 L460.7,609.5 L460.9,610.3 L461.1,608.4 L461.2,610.2 L461.4,609.8 L461.6,608.7 L461.8,609.3 L462.0,610.1 L462.1,610.2 L462.3,609.7 L462.5,610.1 L462.7,611.9 L462.9,611.0 L463.0,611.6 L463.2,611.8 L463.4,610.8 L463.6,613.1 L463.8,608.7 L463.9,610.6 L464.1,608.8 L464.3,611.7 L464.5,611.5 L464.7,606.5 L464.8,607.7 L465.0,610.5 L465.2,610.7 L465.4,611.2 L465.6,610.4 L465.7,611.3 L465.9,611.6 L466.1,610.2 L466.3,611.5 L466.5,607.0 L466.6,611.2 L466.8,608.3 L467.0,611.4 L467.2,609.2 L467.4,608.2 L467.5,609.4 L467.7,607.8 L467.9,608.2 L468.1,607.5 L468.3,609.5 L468.4,609.7 L468.6,610.8 L468.8,609.0 L469.0,610.8 L469.2,609.4 L469.3,610.0 L469.5,610.8 L469.7,611.3 L469.9,609.0 L470.1,609.4 L470.2,609.8 L470.4,610.0 L470.6,608.5 L470.8,611.0 L471.0,608.9 L471.1,609.8 L471.3,607.9 L471.5,610.2 L471.7,610.5 L471.9,609.0 L472.0,612.0 L472.2,609.6 L472.4,611.7 L472.6,610.7 L472.8,608.5 L472.9,609.0 L473.1,610.1 L473.3,609.0 L473.5,609.2 L473.7,608.9 L473.8,607.6 L474.0,609.7 L474.2,606.8 L474.4,610.4 L474.6,608.9 L474.7,608.6 L474.9,609.2 L475.1,610.1 L475.3,607.6 L475.5,607.1 L475.6,607.7 L475.8,606.7 L476.0,608.3 L476.2,611.6 L476.4,608.0 L476.5,610.6 L476.7,608.3 L476.9,610.5 L477.1,609.7 L477.3,610.0 L477.4,610.4 L477.6,611.7 L477.8,609.6 L478.0,609.6 L478.2,608.5 L478.3,610.5 L478.5,609.3 L478.7,611.0 L478.9,609.9 L479.1,612.3 L479.2,607.5 L479.4,610.0 L479.6,611.2 L479.8,609.6 L480.0,608.9 L480.1,609.5 L480.3,608.2 L480.5,609.9 L480.7,612.8 L480.9,611.2 L481.0,608.0 L481.2,608.4 L481.4,609.2 L481.6,611.3 L481.8,608.8 L481.9,609.1 L482.1,610.9 L482.3,610.6 L482.5,609.0 L482.7,607.9 L482.8,607.6 L483.0,608.7 L483.2,606.9 L483.4,610.8 L483.6,608.9 L483.7,610.4 L483.9,612.3 L484.1,611.8 L484.3,608.8 L484.5,611.6 L484.6,611.9 L484.8,609.8 L485.0,609.2 L485.2,610.1 L485.4,607.8 L485.5,611.7 L485.7,606.6 L485.9,608.3 L486.1,609.3 L486.3,609.8 L486.4,610.7 L486.6,610.2 L486.8,609.8 L487.0,611.8 L487.2,607.5 L487.3,610.8 L487.5,609.6 L487.7,611.0 L487.9,611.2 L488.1,609.4 L488.2,609.5 L488.4,611.8 L488.6,611.1 L488.8,609.6 L489.0,613.5 L489.1,613.9 L489.3,608.8 L489.5,610.7 L489.7,613.6 L489.9,611.0 L490.0,610.0 L490.2,609.3 L490.4,608.4 L490.6,608.8 L490.8,608.1 L490.9,609.8 L491.1,608.1 L491.3,608.5 L491.5,607.4 L491.7,608.9 L491.8,607.5 L492.0,608.5 L492.2,610.7 L492.4,609.9 L492.6,610.1 L492.7,609.6 L492.9,609.3 L493.1,608.6 L493.3,608.5 L493.5,609.8 L493.6,607.5 L493.8,610.9 L494.0,609.0 L494.2,607.8 L494.4,607.9 L494.5,607.6 L494.7,608.8 L494.9,607.9 L495.1,610.7 L495.3,608.3 L495.4,606.5 L495.6,608.4 L495.8,607.0 L496.0,609.6 L496.2,611.2 L496.3,611.1 L496.5,608.3 L496.7,608.7 L496.9,611.7 L497.1,609.9 L497.2,609.2 L497.4,610.7 L497.6,612.2 L497.8,610.9 L498.0,609.3 L498.1,609.3 L498.3,610.0 L498.5,608.8 L498.7,608.5 L498.9,609.7 L499.0,608.2 L499.2,609.5 L499.4,609.8 L499.6,612.9 L499.8,608.4 L499.9,609.6 L500.1,609.2 L500.3,610.0 L500.5,610.8 L500.7,609.2 L500.8,608.7 L501.0,607.3 L501.2,608.0 L501.4,609.6 L501.6,609.0 L501.7,607.7 L501.9,608.9 L502.1,609.3 L502.3,609.7 L502.5,608.0 L502.6,608.5 L502.8,606.9 L503.0,608.0 L503.2,612.0 L503.4,607.0 L503.5,608.9 L503.7,609.2 L503.9,608.2 L504.1,607.9 L504.3,608.9 L504.4,609.0 L504.6,608.5 L504.8,606.3 L505.0,608.4 L505.2,607.4 L505.3,608.1 L505.5,609.2 L505.7,609.8 L505.9,610.2 L506.1,608.6 L506.2,610.4 L506.4,610.8 L506.6,610.4 L506.8,610.9 L507.0,609.0 L507.1,608.9 L507.3,610.6 L507.5,607.6 L507.7,609.6 L507.9,608.3 L508.0,608.9 L508.2,607.0 L508.4,608.3 L508.6,609.5 L508.8,610.8 L508.9,611.0 L509.1,609.2 L509.3,609.0 L509.5,607.9 L509.7,609.6 L509.8,608.6 L510.0,609.6 L510.2,611.0 L510.4,608.7 L510.6,606.4 L510.7,607.6 L510.9,606.9 L511.1,607.4 L511.3,611.2 L511.5,609.7 L511.6,607.4 L511.8,610.9 L512.0,611.5 L512.2,609.2 L512.4,609.2 L512.5,609.2 L512.7,610.0 L512.9,610.6 L513.1,611.5 L513.3,611.4 L513.4,611.5 L513.6,611.4 L513.8,610.7 L514.0,607.5 L514.2,609.3 L514.3,610.1 L514.5,609.3 L514.7,611.2 L514.9,609.2 L515.1,608.7 L515.2,612.0 L515.4,610.6 L515.6,609.9 L515.8,611.2 L516.0,611.2 L516.1,610.2 L516.3,606.2 L516.5,608.7 L516.7,609.2 L516.9,608.3 L517.0,609.9 L517.2,611.4 L517.4,609.4 L517.6,608.6 L517.8,612.9 L517.9,609.5 L518.1,608.7 L518.3,610.2 L518.5,610.2 L518.7,608.6 L518.8,610.6 L519.0,609.0 L519.2,608.4 L519.4,609.8 L519.6,610.7 L519.7,608.7 L519.9,610.1 L520.1,609.7 L520.3,613.5 L520.5,608.9 L520.6,611.8 L520.8,609.5 L521.0,609.2 L521.2,610.1 L521.4,610.4 L521.5,610.7 L521.7,609.1 L521.9,607.6 L522.1,608.0 L522.3,609.1 L522.4,609.1 L522.6,610.4 L522.8,608.7 L523.0,609.8 L523.2,610.3 L523.3,608.8 L523.5,607.0 L523.7,607.6 L523.9,607.0 L524.1,611.2 L524.2,608.0 L524.4,611.2 L524.6,610.7 L524.8,612.3 L525.0,611.1 L525.1,609.6 L525.3,609.5 L525.5,609.8 L525.7,609.7 L525.9,608.8 L526.0,609.4 L526.2,611.6 L526.4,606.6 L526.6,609.3 L526.8,608.0 L526.9,609.4 L527.1,609.9 L527.3,608.9 L527.5,610.5 L527.7,607.2 L527.8,610.6 L528.0,608.1 L528.2,610.5 L528.4,609.8 L528.6,605.5 L528.7,608.4 L528.9,609.8 L529.1,611.8 L529.3,609.7 L529.5,609.8 L529.6,607.8 L529.8,611.7 L530.0,612.2 L530.2,609.4 L530.4,609.3 L530.5,607.5 L530.7,610.9 L530.9,612.9 L531.1,610.2 L531.3,611.0 L531.4,610.1 L531.6,607.7 L531.8,610.5 L532.0,607.3 L532.2,608.9 L532.3,609.1 L532.5,609.9 L532.7,609.5 L532.9,609.7 L533.1,608.3 L533.2,607.6 L533.4,609.6 L533.6,608.6 L533.8,608.1 L534.0,608.2 L534.1,609.7 L534.3,608.2 L534.5,608.9 L534.7,608.2 L534.9,610.7 L535.0,611.1 L535.2,613.2 L535.4,608.1 L535.6,608.7 L535.8,610.8 L535.9,609.1 L536.1,608.9 L536.3,611.4 L536.5,608.9 L536.7,607.5 L536.8,607.3 L537.0,609.6 L537.2,609.7 L537.4,607.6 L537.6,607.7 L537.7,609.5 L537.9,609.1 L538.1,607.7 L538.3,609.3 L538.5,609.5 L538.6,606.3 L538.8,608.1 L539.0,609.3 L539.2,608.0 L539.4,606.3 L539.5,609.1 L539.7,610.6 L539.9,611.6 L540.1,606.5 L540.3,612.8 L540.4,607.9 L540.6,611.1 L540.8,611.3 L541.0,611.0 L541.2,612.3 L541.3,607.5 L541.5,610.0 L541.7,607.8 L541.9,605.4 L542.1,612.8 L542.2,609.7 L542.4,610.8 L542.6,607.0 L542.8,610.4 L543.0,610.7 L543.1,610.6 L543.3,608.9 L543.5,607.7 L543.7,609.1 L543.9,606.3 L544.0,606.9 L544.2,609.4 L544.4,609.9 L544.6,608.9 L544.8,609.3 L544.9,612.4 L545.1,611.4 L545.3,609.3 L545.5,610.7 L545.7,607.7 L545.8,608.7 L546.0,610.5 L546.2,607.7 L546.4,609.0 L546.6,607.3 L546.7,609.1 L546.9,610.9 L547.1,607.9 L547.3,609.4 L547.5,608.3 L547.6,607.8 L547.8,607.4 L548.0,610.5 L548.2,611.8 L548.4,609.5 L548.5,607.8 L548.7,609.7 L548.9,608.3 L549.1,609.9 L549.3,609.1 L549.4,609.1 L549.6,609.5 L549.8,608.2 L550.0,608.5 L550.2,606.5 L550.3,608.1 L550.5,606.8 L550.7,608.8 L550.9,607.6 L551.1,609.3 L551.2,609.8 L551.4,607.4 L551.6,608.0 L551.8,607.7 L552.0,610.5 L552.1,612.0 L552.3,611.1 L552.5,609.4 L552.7,611.8 L552.9,607.5 L553.0,611.6 L553.2,608.8 L553.4,606.3 L553.6,613.8 L553.8,612.2 L553.9,608.4 L554.1,609.9 L554.3,609.1 L554.5,609.7 L554.7,607.2 L554.8,608.2 L555.0,610.1 L555.2,609.6 L555.4,610.6 L555.6,609.1 L555.7,612.5 L555.9,608.4 L556.1,610.0 L556.3,606.9 L556.5,608.1 L556.6,612.2 L556.8,608.7 L557.0,610.7 L557.2,610.0 L557.4,608.7 L557.5,609.5 L557.7,609.4 L557.9,609.4 L558.1,610.8 L558.3,610.8 L558.4,608.5 L558.6,608.0 L558.8,609.5 L559.0,608.9 L559.2,610.3 L559.3,612.4 L559.5,609.5 L559.7,608.3 L559.9,608.4 L560.1,607.2 L560.2,607.1 L560.4,606.8 L560.6,608.1 L560.8,607.7 L561.0,609.3 L561.1,607.5 L561.3,608.0 L561.5,606.7 L561.7,610.5 L561.9,609.2 L562.0,610.8 L562.2,610.0 L562.4,610.9 L562.6,609.3 L562.8,610.4 L562.9,613.2 L563.1,608.1 L563.3,611.2 L563.5,612.0 L563.7,610.3 L563.8,610.7 L564.0,611.1 L564.2,608.4 L564.4,609.7 L564.6,608.1 L564.7,608.6 L564.9,608.4 L565.1,609.2 L565.3,609.9 L565.5,610.4 L565.6,608.1 L565.8,612.8 L566.0,611.2 L566.2,610.7 L566.4,609.2 L566.5,609.5 L566.7,610.5 L566.9,609.9 L567.1,606.7 L567.3,610.0 L567.4,613.2 L567.6,606.3 L567.8,610.6 L568.0,609.8 L568.2,609.1 L568.3,611.5 L568.5,608.0 L568.7,610.0 L568.9,612.0 L569.1,609.9 L569.2,609.1 L569.4,610.2 L569.6,609.6 L569.8,612.3 L570.0,609.0 L570.1,610.8 L570.3,608.0 L570.5,611.0 L570.7,610.1 L570.9,606.6 L571.0,610.6 L571.2,608.8 L571.4,609.6 L571.6,612.1 L571.8,608.3 L571.9,608.6 L572.1,611.5 L572.3,609.6 L572.5,611.2 L572.7,609.6 L572.8,608.0 L573.0,609.0 L573.2,611.0 L573.4,610.5 L573.6,609.2 L573.7,609.0 L573.9,609.5 L574.1,608.9 L574.3,612.2 L574.5,609.0 L574.6,607.5 L574.8,608.6 L575.0,610.2 L575.2,610.2 L575.4,609.1 L575.5,608.7 L575.7,609.6 L575.9,606.9 L576.1,607.5 L576.3,610.6 L576.4,608.5 L576.6,609.8 L576.8,610.9 L577.0,610.5 L577.2,610.0 L577.3,613.0 L577.5,611.0 L577.7,609.6 L577.9,611.1 L578.1,610.6 L578.2,609.3 L578.4,610.6 L578.6,610.7 L578.8,608.1 L579.0,610.3 L579.1,610.2 L579.3,609.8 L579.5,608.3 L579.7,610.0 L579.9,610.5 L580.0,610.3 L580.2,608.4 L580.4,610.2 L580.6,607.8 L580.8,608.9 L580.9,611.0 L581.1,607.9 L581.3,608.1 L581.5,610.7 L581.7,608.4 L581.8,608.7 L582.0,609.2 L582.2,610.2 L582.4,605.6 L582.6,607.7 L582.7,607.1 L582.9,607.4 L583.1,607.7 L583.3,607.3 L583.5,609.0 L583.6,607.3 L583.8,609.2 L584.0,609.7 L584.2,608.2 L584.4,609.5 L584.5,611.4 L584.7,609.2 L584.9,608.1 L585.1,609.0 L585.3,607.9 L585.4,609.8 L585.6,610.2 L585.8,607.9 L586.0,608.2 L586.2,609.8 L586.3,607.8 L586.5,609.1 L586.7,607.4 L586.9,607.5 L587.1,608.2 L587.2,611.8 L587.4,608.5 L587.6,608.4 L587.8,608.7 L588.0,609.1 L588.1,610.3 L588.3,609.4 L588.5,612.0 L588.7,611.8 L588.9,611.2 L589.0,609.4 L589.2,609.9 L589.4,607.4 L589.6,608.7 L589.8,608.8 L589.9,608.6 L590.1,606.4 L590.3,610.4 L590.5,608.6 L590.7,608.3 L590.8,608.8 L591.0,608.5 L591.2,609.2 L591.4,607.3 L591.6,608.0 L591.7,609.5 L591.9,608.9 L592.1,608.3 L592.3,608.0 L592.5,607.8 L592.6,608.8 L592.8,610.8 L593.0,608.1 L593.2,611.6 L593.4,610.5 L593.5,608.6 L593.7,610.9 L593.9,607.8 L594.1,607.9 L594.3,608.3 L594.4,609.1 L594.6,609.3 L594.8,608.8 L595.0,609.8 L595.2,606.8 L595.3,610.7 L595.5,607.9 L595.7,608.6 L595.9,608.9 L596.1,607.8 L596.2,607.8 L596.4,608.3 L596.6,609.8 L596.8,610.6 L597.0,610.2 L597.1,608.0 L597.3,608.3 L597.5,608.4 L597.7,609.8 L597.9,606.4 L598.0,610.7 L598.2,608.1 L598.4,607.7 L598.6,609.4 L598.8,610.6 L598.9,609.6 L599.1,610.6 L599.3,609.3 L599.5,611.0 L599.7,611.5 L599.8,609.9 L600.0,612.1 L600.2,610.2 L600.4,609.9 L600.6,608.4 L600.7,609.2 L600.9,610.7 L601.1,608.4 L601.3,611.3 L601.5,610.6 L601.6,610.5 L601.8,608.9 L602.0,609.8 L602.2,610.9 L602.4,609.1 L602.5,610.5 L602.7,606.7 L602.9,610.2 L603.1,608.0 L603.3,609.6 L603.4,605.7 L603.6,609.4 L603.8,608.2 L604.0,609.5 L604.2,607.5 L604.3,608.0 L604.5,611.9 L604.7,608.3 L604.9,608.8 L605.1,609.6 L605.2,609.0 L605.4,611.5 L605.6,612.1 L605.8,608.8 L606.0,607.3 L606.1,610.9 L606.3,610.9 L606.5,610.4 L606.7,611.1 L606.9,608.5 L607.0,609.6 L607.2,608.1 L607.4,608.2 L607.6,611.5 L607.8,609.1 L607.9,613.0 L608.1,610.4 L608.3,609.2 L608.5,610.7 L608.7,612.0 L608.8,610.3 L609.0,608.1 L609.2,610.6 L609.4,611.8 L609.6,609.2 L609.7,608.8 L609.9,610.9 L610.1,610.1 L610.3,608.4 L610.5,609.6 L610.6,608.5 L610.8,609.9 L611.0,609.6 L611.2,611.2 L611.4,610.7 L611.5,607.5 L611.7,610.2 L611.9,610.4 L612.1,610.4 L612.3,610.9 L612.4,609.0 L612.6,608.3 L612.8,610.6 L613.0,607.5 L613.2,606.2 L613.3,610.7 L613.5,608.4 L613.7,609.0 L613.9,607.0 L614.1,607.4 L614.2,607.4 L614.4,608.3 L614.6,609.5 L614.8,605.9 L615.0,609.8 L615.1,607.4 L615.3,607.3 L615.5,609.9 L615.7,608.9 L615.9,606.9 L616.0,611.9 L616.2,608.5 L616.4,609.9 L616.6,609.9 L616.8,611.6 L616.9,609.1 L617.1,611.0 L617.3,608.7 L617.5,611.1 L617.7,608.1 L617.8,608.1 L618.0,611.6 L618.2,609.5 L618.4,609.4 L618.6,612.1 L618.7,609.6 L618.9,607.9 L619.1,609.8 L619.3,607.9 L619.5,611.1 L619.6,611.5 L619.8,608.8 L620.0,608.6 L620.2,609.6 L620.4,609.7 L620.5,608.2 L620.7,610.8 L620.9,607.2 L621.1,609.0 L621.3,609.1 L621.4,609.6 L621.6,610.3 L621.8,608.4 L622.0,610.4 L622.2,609.3 L622.3,608.8 L622.5,610.8 L622.7,607.5 L622.9,609.3 L623.1,607.7 L623.2,608.6 L623.4,609.8 L623.6,609.8 L623.8,611.2 L624.0,608.6 L624.1,607.3 L624.3,610.2 L624.5,609.9 L624.7,611.4 L624.9,609.7 L625.0,611.3 L625.2,610.8 L625.4,610.6 L625.6,610.0 L625.8,610.0 L625.9,609.9 L626.1,610.0 L626.3,610.9 L626.5,608.8 L626.7,611.7 L626.8,609.4 L627.0,611.4 L627.2,609.6 L627.4,609.5 L627.6,612.6 L627.7,609.3 L627.9,607.8 L628.1,608.2 L628.3,608.8 L628.5,612.4 L628.6,610.1 L628.8,613.3 L629.0,608.5 L629.2,610.2 L629.4,610.5 L629.5,611.9 L629.7,608.7 L629.9,610.8 L630.1,610.5 L630.3,608.4 L630.4,609.7 L630.6,609.3 L630.8,606.1 L631.0,610.2 L631.2,609.9 L631.3,608.7 L631.5,607.5 L631.7,611.1 L631.9,609.4 L632.1,610.5 L632.2,610.8 L632.4,608.0 L632.6,610.0 L632.8,608.5 L633.0,608.9 L633.1,608.8 L633.3,608.9 L633.5,610.2 L633.7,608.5 L633.9,608.1 L634.0,608.0 L634.2,609.2 L634.4,607.7 L634.6,608.6 L634.8,609.3 L634.9,608.7 L635.1,609.1 L635.3,608.5 L635.5,612.2 L635.7,611.4 L635.8,610.2 L636.0,609.5 L636.2,612.3 L636.4,609.7 L636.6,609.1 L636.7,609.6 L636.9,609.9 L637.1,611.4 L637.3,609.4 L637.5,612.3 L637.6,608.3 L637.8,610.4 L638.0,608.1 L638.2,612.2 L638.4,609.1 L638.5,609.4 L638.7,610.7 L638.9,611.0 L639.1,608.0 L639.3,609.3 L639.4,608.0 L639.6,610.2 L639.8,610.1 L640.0,609.3 L640.2,609.2 L640.3,609.6 L640.5,609.0 L640.7,611.0 L640.9,612.4 L641.1,607.5 L641.2,609.9 L641.4,609.0 L641.6,610.4 L641.8,608.8 L642.0,610.0 L642.1,608.7 L642.3,611.0 L642.5,610.2 L642.7,609.5 L642.9,610.3 L643.0,609.3 L643.2,608.1 L643.4,611.0 L643.6,609.8 L643.8,609.0 L643.9,610.5 L644.1,610.7 L644.3,607.4 L644.5,608.0 L644.7,611.2 L644.8,610.8 L645.0,607.9 L645.2,607.4 L645.4,608.6 L645.6,608.9 L645.7,607.5 L645.9,609.7 L646.1,608.2 L646.3,608.4 L646.5,611.2 L646.6,609.8 L646.8,610.5 L647.0,611.2 L647.2,611.6 L647.4,609.7 L647.5,610.0 L647.7,609.0 L647.9,612.3 L648.1,610.9 L648.3,608.3 L648.4,609.6 L648.6,610.7 L648.8,610.5 L649.0,612.0 L649.2,611.7 L649.3,609.5 L649.5,610.0 L649.7,608.5 L649.9,610.6 L650.1,610.6 L650.2,614.0 L650.4,610.4 L650.6,607.2 L650.8,609.2 L651.0,610.0 L651.1,608.1 L651.3,608.6 L651.5,609.4 L651.7,610.3 L651.9,609.8 L652.0,608.5 L652.2,610.3 L652.4,608.9 L652.6,608.9 L652.8,608.1 L652.9,608.9 L653.1,611.1 L653.3,608.2 L653.5,610.3 L653.7,611.5 L653.8,609.7 L654.0,611.0 L654.2,608.8 L654.4,612.1 L654.6,611.6 L654.7,610.4 L654.9,607.9 L655.1,608.2 L655.3,610.8 L655.5,611.4 L655.6,610.0 L655.8,611.1 L656.0,608.7 L656.2,609.2 L656.4,609.6 L656.5,610.3 L656.7,607.3 L656.9,610.9 L657.1,611.2 L657.3,608.0 L657.4,607.7 L657.6,610.0 L657.8,608.7 L658.0,606.1 L658.2,610.0 L658.3,608.6 L658.5,607.8 L658.7,611.3 L658.9,608.8 L659.1,607.6 L659.2,608.7 L659.4,607.2 L659.6,607.1 L659.8,608.8 L660.0,608.3 L660.1,608.2 L660.3,611.1 L660.5,610.3 L660.7,610.3 L660.9,609.8 L661.0,609.6 L661.2,611.2 L661.4,609.6 L661.6,612.2 L661.8,608.2 L661.9,609.6 L662.1,608.3 L662.3,609.7 L662.5,610.7 L662.7,611.9 L662.8,609.1 L663.0,610.2 L663.2,609.6 L663.4,609.3 L663.6,609.0 L663.7,610.4 L663.9,608.0 L664.1,610.1 L664.3,610.0 L664.5,609.4 L664.6,609.1 L664.8,608.1 L665.0,612.3 L665.2,607.6 L665.4,611.2 L665.5,611.7 L665.7,608.6 L665.9,607.5 L666.1,610.4 L666.3,611.5 L666.4,607.6 L666.6,608.7 L666.8,610.7 L667.0,610.0 L667.2,611.9 L667.3,608.6 L667.5,610.1 L667.7,608.1 L667.9,612.3 L668.1,608.0 L668.2,605.6 L668.4,608.2 L668.6,608.2 L668.8,611.2 L669.0,608.4 L669.1,608.7 L669.3,609.6 L669.5,612.9 L669.7,608.9 L669.9,610.7 L670.0,610.0 L670.2,609.0 L670.4,609.6 L670.6,609.3 L670.8,608.1 L670.9,610.8 L671.1,607.1 L671.3,610.8 L671.5,610.4 L671.7,608.9 L671.8,608.4 L672.0,609.2 L672.2,609.9" fill="none" stroke="#111" stroke-width="0.75" />
<path d="M324.9,609 L325.3,574.2 L325.8,630 L326.2,609" fill="none" stroke="#111" stroke-width="0.9" />
<path d="M337.2,609 L337.6,580.8 L338.1,630 L338.5,609" fill="none" stroke="#111" stroke-width="0.9" />
<path d="M349.7,609 L350.1,578.6 L350.6,629 L351.0,609" fill="none" stroke="#111" stroke-width="0.9" />
<path d="M362.1,609 L362.5,581.5 L363.0,629.6 L363.4,609" fill="none" stroke="#111" stroke-width="0.9" />
<path d="M374.4,609 L374.8,579.3 L375.3,631.8 L375.7,609" fill="none" stroke="#111" stroke-width="0.9" />
<path d="M368.80,697.1 L369.05,666.9 L369.50,699.6 M371.20,697.1 L371.45,665.4 L371.90,699.6 M373.93,697.2 L374.18,666.1 L374.63,699.7 M376.68,697.3 L376.93,674.3 L377.38,699.8 M378.99,698.3 L379.24,674.9 L379.69,700.8 M383.24,698.3 L383.49,677.3 L383.94,700.8 M386.02,698.3 L386.27,668.1 L386.72,700.8 M388.30,698.3 L388.55,670.3 L389.00,700.8 M392.27,698.3 L392.52,672.0 L392.97,700.8 M394.15,698.3 L394.40,678.4 L394.85,700.8 M396.10,698.3 L396.35,675.1 L396.80,700.8 M398.80,698.3 L399.05,668.3 L399.50,700.8 M400.80,698.3 L401.05,670.2 L401.50,700.8 M403.51,698.3 L403.76,675.5 L404.21,700.8 M407.58,698.3 L407.83,675.4 L408.28,700.8 M409.42,698.3 L409.67,677.7 L410.12,700.8 M410.66,698.3 L410.91,660.4 L411.36,700.8 M414.16,698.3 L414.41,660.7 L414.86,700.8 M421.16,698.3 L421.41,655.7 L421.86,700.8 M424.02,698.3 L424.27,659.8 L424.72,700.8 M431.98,698.3 L432.23,667.2 L432.68,700.8 M435.27,698.3 L435.52,668.7 L435.97,700.8 M446.14,698.3 L446.39,665.5 L446.84,700.8 M450.21,698.3 L450.46,657.0 L450.91,700.8 M454.31,698.3 L454.56,655.7 L455.01,700.8 M458.18,698.3 L458.43,655.7 L458.88,700.8 M462.24,698.3 L462.49,663.8 L462.94,700.8 M465.82,698.3 L466.07,657.0 L466.52,700.8 M472.12,698.3 L472.37,669.8 L472.82,700.8 M480.50,698.3 L480.75,665.9 L481.20,700.8 M487.71,698.3 L487.96,660.6 L488.41,700.8 M490.99,698.3 L491.24,658.9 L491.69,700.8 M503.00,697.8 L503.25,653.4 L503.70,700.3 M505.50,697.8 L505.75,664.1 L506.20,700.3 M509.23,697.7 L509.48,667.0 L509.93,700.2 M514.24,697.5 L514.49,669.1 L514.94,700.0 M516.34,697.5 L516.59,670.3 L517.04,700.0 M522.66,697.3 L522.91,670.7 L523.36,699.8 M526.70,697.2 L526.95,668.0 L527.40,699.7 M528.99,697.2 L529.24,672.4 L529.69,699.7 M537.72,696.9 L537.97,671.3 L538.42,699.4 M539.57,696.9 L539.82,674.2 L540.27,699.4 M541.12,696.8 L541.37,674.5 L541.82,699.3 M548.97,696.6 L549.22,674.7 L549.67,699.1 M555.16,696.5 L555.41,679.5 L555.86,699.0 M560.25,696.3 L560.50,678.8 L560.95,698.8 M564.22,696.2 L564.47,682.7 L564.92,698.7 M566.02,696.2 L566.27,683.3 L566.72,698.7 M571.56,696.0 L571.81,684.3 L572.26,698.5 M573.46,696.0 L573.71,680.6 L574.16,698.5 M575.81,695.9 L576.06,686.4 L576.51,698.4 M578.00,695.9 L578.25,683.3 L578.70,698.4 M585.58,695.7 L585.83,685.3 L586.28,698.2 M595.21,695.4 L595.46,688.7 L595.91,697.9 M605.36,695.3 L605.61,688.5 L606.06,697.8" fill="none" stroke="#a0a0a0" stroke-width="0.85" />
<path d="M292.2,694.5 L292.4,694.3 L292.7,694.6 L292.9,693.5 L293.2,694.0 L293.4,695.8 L293.7,693.3 L293.9,694.2 L294.2,693.7 L294.4,694.0 L294.7,693.3 L294.9,693.2 L295.2,693.9 L295.4,694.0 L295.7,694.7 L295.9,693.0 L296.2,693.8 L296.4,695.2 L296.7,693.3 L296.9,693.5 L297.2,693.9 L297.4,693.9 L297.7,694.8 L297.9,694.3 L298.2,693.9 L298.4,694.8 L298.7,696.0 L298.9,695.3 L299.2,693.2 L299.4,694.3 L299.7,693.9 L299.9,694.9 L300.2,694.5 L300.4,695.4 L300.7,695.2 L300.9,695.3 L301.2,694.8 L301.4,694.7 L301.7,695.3 L301.9,695.8 L302.2,695.2 L302.4,694.6 L302.7,695.5 L302.9,694.6 L303.2,694.4 L303.4,693.9 L303.7,694.0 L303.9,693.9 L304.2,692.8 L304.4,694.8 L304.7,694.4 L304.9,694.0 L305.2,694.8 L305.4,694.3 L305.7,695.0 L305.9,693.8 L306.2,695.0 L306.4,695.4 L306.7,696.3 L306.9,696.0 L307.2,695.2 L307.4,693.8 L307.7,693.1 L307.9,694.8 L308.2,694.1 L308.4,695.2 L308.7,694.6 L308.9,694.9 L309.2,693.5 L309.4,695.0 L309.7,694.4 L309.9,694.9 L310.2,695.0 L310.4,694.7 L310.7,694.8 L310.9,694.4 L311.2,694.7 L311.4,694.3 L311.7,694.0 L311.9,693.9 L312.2,694.9 L312.4,693.9 L312.7,694.9 L312.9,694.5 L313.2,694.5 L313.4,694.9 L313.7,695.3 L313.9,695.0 L314.2,694.5 L314.4,693.1 L314.7,693.4 L314.9,693.5 L315.2,694.0 L315.4,692.1 L315.7,693.8 L315.9,693.3 L316.2,694.7 L316.4,694.8 L316.7,695.3 L316.9,695.4 L317.2,694.6 L317.4,694.3 L317.7,693.7 L317.9,693.3 L318.2,694.4 L318.4,693.9 L318.7,693.4 L318.9,694.2 L319.2,694.4 L319.4,695.0 L319.7,694.7 L319.9,694.9 L320.2,695.7 L320.4,695.0 L320.7,695.3 L320.9,695.1 L321.2,694.4 L321.4,694.6 L321.7,694.8 L321.9,695.6 L322.2,694.7 L322.4,693.9 L322.7,694.5 L322.9,693.9 L323.2,694.9 L323.4,694.5 L323.7,694.2 L323.9,695.0 L324.2,694.5 L324.4,693.6 L324.7,695.2 L324.9,696.2 L325.2,694.7 L325.4,696.8 L325.7,690.9 L325.9,688.4 L326.2,688.2 L326.4,687.7 L326.7,689.5 L326.9,689.5 L327.2,689.4 L327.4,689.7 L327.7,689.9 L327.9,691.0 L328.2,691.7 L328.4,690.8 L328.7,692.2 L328.9,692.4 L329.2,693.3 L329.4,693.8 L329.7,692.2 L329.9,692.3 L330.2,693.1 L330.4,692.9 L330.7,693.1 L330.9,694.5 L331.2,695.0 L331.4,694.3 L331.7,693.9 L331.9,694.6 L332.2,693.2 L332.4,694.5 L332.7,693.9 L332.9,695.9 L333.2,694.9 L333.4,694.7 L333.7,694.4 L333.9,693.5 L334.2,695.6 L334.4,696.3 L334.7,695.1 L334.9,696.0 L335.2,695.6 L335.4,694.1 L335.7,695.5 L335.9,695.9 L336.2,694.9 L336.4,694.8 L336.7,695.6 L336.9,694.1 L337.2,694.6 L337.4,695.1 L337.7,694.2 L337.9,691.6 L338.2,688.3 L338.4,687.4 L338.7,689.0 L338.9,689.0 L339.2,690.2 L339.4,689.8 L339.7,691.4 L339.9,690.7 L340.2,691.5 L340.4,691.3 L340.7,691.7 L340.9,692.8 L341.2,692.5 L341.4,692.5 L341.7,692.0 L341.9,693.9 L342.2,693.9 L342.4,693.6 L342.7,694.4 L342.9,693.4 L343.2,693.2 L343.4,692.8 L343.7,693.6 L343.9,693.4 L344.2,693.6 L344.4,694.8 L344.7,695.2 L344.9,695.3 L345.2,695.8 L345.4,695.0 L345.7,694.9 L345.9,695.5 L346.2,694.8 L346.4,695.2 L346.7,694.2 L346.9,695.9 L347.2,694.5 L347.4,695.2 L347.7,694.5 L347.9,695.3 L348.2,695.8 L348.4,695.8 L348.7,695.5 L348.9,694.3 L349.2,695.0 L349.4,695.0 L349.7,694.4 L349.9,695.7 L350.2,695.1 L350.4,691.2 L350.7,689.2 L350.9,688.1 L351.2,688.7 L351.4,689.1 L351.7,690.3 L351.9,690.6 L352.2,691.5 L352.4,691.6 L352.7,690.7 L352.9,691.9 L353.2,692.4 L353.4,691.6 L353.7,692.5 L353.9,693.8 L354.2,693.8 L354.4,694.2 L354.7,693.8 L354.9,693.8 L355.2,694.6 L355.4,694.0 L355.7,694.2 L355.9,694.6 L356.2,694.1 L356.4,694.3 L356.7,694.9 L356.9,695.4 L357.2,695.7 L357.4,695.2 L357.7,695.1 L357.9,693.9 L358.2,694.5 L358.4,695.0 L358.7,694.2 L358.9,694.5 L359.2,694.7 L359.4,695.1 L359.7,695.4 L359.9,695.1 L360.2,695.9 L360.4,696.5 L360.7,695.5 L360.9,696.5 L361.2,695.9 L361.4,695.2 L361.7,695.4 L361.9,695.0 L362.2,695.9 L362.4,694.8 L362.7,695.9 L362.9,690.9 L363.2,687.9 L363.4,689.1 L363.7,690.3 L363.9,689.6 L364.2,691.0 L364.4,690.3 L364.7,692.3 L364.9,691.7 L365.2,693.3 L365.4,692.3 L365.7,691.7 L365.9,693.6 L366.2,694.9 L366.4,693.6 L366.7,694.9 L366.9,694.9 L367.2,694.7 L367.4,695.3 L367.7,695.6 L367.9,693.9 L368.2,695.2 L368.4,695.0 L368.7,694.1 L368.9,696.0 L369.2,696.3 L369.4,694.5 L369.7,695.8 L369.9,695.1 L370.2,694.9 L370.4,696.0 L370.7,695.5 L370.9,695.7 L371.2,696.8 L371.4,696.8 L371.7,696.6 L371.9,695.0 L372.2,695.4 L372.4,696.5 L372.7,695.3 L372.9,696.0 L373.2,695.9 L373.4,696.3 L373.7,695.4 L373.9,697.4 L374.2,696.0 L374.4,696.2 L374.7,696.7 L374.9,697.7 L375.2,691.5 L375.4,690.2 L375.7,689.7 L375.9,690.0 L376.2,690.4 L376.4,690.4 L376.7,691.2 L376.9,691.4 L377.2,693.4 L377.4,693.5 L377.7,693.8 L377.9,694.6 L378.2,695.2 L378.4,696.3 L378.7,694.9 L378.9,695.6 L379.2,696.0 L379.4,694.2 L379.7,695.3 L379.9,695.4 L380.2,696.2 L380.4,697.8 L380.7,696.8 L380.9,697.3 L381.2,676.8 L381.6,701.1 L381.7,698.9 L381.9,700.0 L382.2,699.0 L382.4,697.5 L382.7,698.8 L382.9,697.4 L383.2,699.1 L383.4,699.0 L383.7,697.8 L383.9,697.2 L384.2,698.4 L384.4,696.7 L384.7,697.8 L384.9,696.5 L385.2,697.8 L385.4,697.0 L385.7,697.1 L385.9,696.6 L386.2,697.3 L386.4,695.9 L386.7,697.0 L386.9,696.9 L387.2,697.8 L387.4,696.7 L387.7,698.4 L387.9,697.2 L388.2,697.1 L388.4,698.0 L388.7,698.1 L388.9,697.5 L389.2,696.9 L389.4,697.0 L389.7,696.8 L389.9,696.9 L390.2,697.2 L390.3,697.3 L390.6,677.0 L391.0,701.1 L391.2,700.0 L391.4,700.6 L391.7,700.3 L391.9,699.3 L392.2,699.4 L392.4,700.2 L392.7,699.0 L392.9,698.6 L393.2,699.6 L393.4,698.2 L393.7,697.3 L393.9,698.3 L394.2,697.3 L394.4,697.4 L394.7,697.6 L394.9,697.7 L395.2,697.1 L395.4,697.3 L395.7,697.6 L395.9,698.6 L396.2,697.4 L396.4,696.8 L396.7,698.2 L396.9,696.4 L397.2,697.3 L397.4,697.1 L397.7,697.0 L397.9,696.5 L398.2,698.0 L398.4,698.5 L398.7,698.7 L398.9,698.1 L399.2,698.3 L399.4,698.1 L399.7,696.6 L399.9,698.0 L400.2,697.3 L400.4,697.1 L400.7,696.9 L400.9,698.3 L401.2,698.5 L401.4,697.2 L401.7,698.5 L401.9,698.5 L402.2,698.2 L402.4,697.8 L402.7,697.1 L402.9,698.2 L403.2,697.2 L403.4,697.7 L403.7,697.1 L403.9,697.2 L404.2,697.7 L404.4,697.5 L404.7,697.1 L404.9,696.7 L405.2,696.8 L405.3,697.3 L405.6,667.4 L406.0,701.1 L406.2,700.3 L406.4,700.0 L406.7,699.4 L406.9,697.6 L407.2,699.1 L407.4,698.2 L407.7,697.8 L407.9,698.7 L408.2,698.1 L408.4,697.7 L408.7,696.8 L408.9,696.9 L409.2,698.1 L409.4,698.6 L409.7,697.3 L409.9,699.2 L410.2,697.8 L410.4,697.8 L410.7,698.6 L410.9,698.6 L411.2,698.3 L411.4,696.9 L411.7,697.1 L411.8,697.3 L412.1,660.1 L412.5,701.1 L412.7,699.3 L412.9,699.7 L413.2,698.7 L413.4,697.5 L413.7,699.8 L413.9,698.2 L414.2,697.7 L414.4,699.0 L414.7,699.0 L414.9,697.8 L415.2,697.2 L415.4,697.0 L415.7,698.3 L415.8,697.3 L416.0,658.0 L416.5,701.1 L416.7,701.4 L416.9,699.3 L417.2,699.2 L417.4,698.4 L417.7,700.2 L417.9,699.6 L418.2,699.0 L418.4,698.7 L418.7,699.0 L418.9,697.6 L419.0,697.3 L419.3,656.8 L419.7,701.1 L419.9,700.1 L420.2,699.4 L420.4,699.4 L420.7,699.5 L420.9,699.0 L421.2,697.8 L421.4,698.4 L421.7,697.6 L421.9,698.0 L422.2,697.1 L422.2,697.3 L422.5,655.4 L422.9,701.1 L422.9,702.5 L423.2,701.4 L423.4,700.6 L423.7,700.5 L423.9,699.7 L424.2,699.3 L424.4,698.2 L424.7,698.0 L424.9,698.2 L425.2,698.0 L425.4,697.9 L425.7,697.3 L425.9,656.8 L426.4,701.1 L426.4,700.8 L426.7,700.1 L426.9,701.1 L427.2,699.7 L427.4,700.1 L427.7,700.1 L427.9,698.9 L428.2,698.8 L428.4,699.3 L428.7,699.3 L428.9,698.7 L429.2,697.3 L429.4,654.7 L429.9,701.1 L429.9,701.6 L430.2,700.2 L430.4,699.1 L430.7,699.6 L430.9,698.0 L431.2,698.4 L431.4,698.8 L431.7,698.4 L431.9,699.5 L432.2,698.1 L432.4,698.6 L432.7,699.2 L432.9,699.4 L433.2,698.8 L433.2,697.3 L433.5,656.8 L433.9,701.1 L433.9,701.3 L434.2,701.4 L434.4,699.7 L434.7,700.3 L434.9,699.7 L435.2,699.2 L435.4,698.8 L435.7,700.0 L435.9,698.2 L436.2,698.4 L436.4,698.5 L436.5,697.3 L436.7,656.9 L437.2,701.1 L437.2,700.9 L437.4,700.8 L437.7,698.3 L437.9,699.1 L438.2,698.1 L438.4,699.0 L438.7,698.2 L438.9,698.3 L439.2,699.0 L439.4,699.8 L439.7,698.9 L439.9,698.2 L440.2,698.8 L440.3,697.3 L440.6,655.5 L441.0,701.1 L441.2,700.2 L441.4,700.6 L441.7,700.4 L441.9,698.3 L442.2,700.5 L442.4,699.8 L442.7,699.4 L442.9,699.0 L443.2,700.1 L443.4,698.8 L443.7,698.1 L443.9,697.9 L444.2,697.3 L444.4,655.3 L444.9,701.1 L444.9,701.1 L445.2,701.0 L445.4,699.9 L445.7,700.8 L445.9,699.0 L446.2,699.4 L446.4,697.6 L446.7,698.0 L446.9,696.8 L447.2,697.4 L447.4,696.8 L447.5,697.3 L447.7,654.5 L448.2,701.1 L448.2,700.9 L448.4,700.7 L448.7,699.1 L448.9,698.3 L449.2,699.2 L449.4,699.4 L449.7,698.6 L449.9,698.5 L450.2,699.0 L450.4,698.7 L450.7,698.2 L450.9,697.1 L451.2,697.2 L451.4,697.3 L451.5,697.3 L451.7,654.7 L452.2,701.1 L452.2,701.2 L452.4,700.7 L452.7,701.6 L452.9,700.9 L453.2,700.7 L453.4,700.5 L453.7,699.5 L453.9,698.0 L454.2,698.2 L454.4,698.8 L454.7,697.4 L454.9,698.5 L455.2,698.2 L455.4,698.7 L455.6,697.3 L455.8,654.8 L456.3,701.1 L456.4,700.7 L456.7,699.7 L456.9,698.3 L457.2,699.1 L457.4,698.5 L457.7,697.8 L457.9,699.2 L458.2,698.8 L458.4,699.1 L458.7,697.7 L458.9,698.4 L459.2,697.5 L459.4,697.4 L459.6,697.3 L459.8,654.6 L460.3,701.1 L460.4,701.2 L460.7,700.8 L460.9,699.7 L461.2,699.8 L461.4,698.7 L461.7,699.4 L461.9,698.7 L462.2,698.9 L462.4,698.7 L462.7,697.4 L462.9,696.9 L463.2,697.6 L463.3,697.3 L463.6,656.0 L464.0,701.1 L464.2,700.0 L464.4,698.8 L464.7,699.2 L464.9,698.8 L465.2,698.6 L465.4,698.8 L465.7,698.7 L465.9,698.1 L466.2,698.2 L466.4,698.2 L466.7,698.1 L466.9,697.8 L467.1,697.3 L467.4,655.1 L467.8,701.1 L467.9,700.5 L468.2,700.4 L468.4,700.2 L468.7,700.1 L468.9,699.8 L469.2,699.7 L469.4,699.3 L469.7,698.2 L469.9,696.8 L470.2,699.1 L470.4,698.3 L470.6,697.3 L470.8,655.3 L471.3,701.1 L471.4,701.2 L471.7,698.5 L471.9,699.9 L472.2,700.5 L472.4,699.8 L472.7,700.1 L472.9,699.2 L473.2,700.4 L473.4,697.9 L473.7,697.5 L473.9,697.3 L474.1,657.1 L474.6,701.1 L474.7,701.5 L474.9,700.2 L475.2,699.4 L475.4,700.7 L475.7,699.8 L475.9,699.6 L476.2,698.1 L476.4,697.7 L476.7,697.7 L476.9,698.5 L477.2,698.8 L477.4,698.6 L477.7,697.4 L477.7,697.3 L478.0,656.9 L478.4,701.1 L478.4,701.4 L478.7,700.8 L478.9,700.0 L479.2,700.1 L479.4,699.5 L479.7,699.5 L479.9,698.7 L480.2,698.8 L480.4,698.3 L480.7,696.7 L480.9,697.3 L481.2,696.9 L481.4,697.7 L481.5,697.3 L481.8,654.7 L482.2,701.1 L482.4,699.9 L482.7,699.6 L482.9,698.7 L483.2,700.6 L483.4,698.3 L483.7,698.9 L483.9,699.1 L484.2,698.3 L484.4,698.4 L484.7,698.8 L484.9,698.9 L485.2,698.1 L485.4,697.3 L485.6,655.5 L486.1,701.1 L486.2,700.8 L486.4,700.1 L486.7,700.3 L486.9,700.9 L487.2,698.9 L487.4,698.6 L487.7,699.0 L487.9,698.6 L488.2,698.9 L488.4,698.5 L488.7,698.0 L488.8,697.3 L489.1,655.1 L489.5,701.1 L489.7,700.2 L489.9,700.3 L490.2,699.3 L490.4,698.8 L490.7,698.3 L490.9,699.4 L491.2,698.9 L491.4,699.1 L491.7,698.6 L491.9,698.3 L492.2,698.5 L492.4,698.3 L492.5,697.3 L492.7,655.5 L493.2,701.1 L493.2,701.8 L493.4,700.8 L493.7,699.9 L493.9,700.3 L494.2,699.3 L494.4,699.4 L494.7,698.5 L494.9,698.9 L495.2,699.4 L495.4,699.1 L495.7,698.6 L495.9,698.9 L496.2,697.6 L496.4,697.1 L496.6,697.3 L496.9,653.4 L497.3,701.1 L497.4,696.7 L497.7,700.2 L497.9,696.2 L498.2,708.5 L498.4,698.5 L498.7,689.0 L498.9,692.1 L499.2,694.5 L499.4,696.7 L499.7,695.6 L499.9,697.0 L500.2,693.4 L500.4,697.6 L500.7,709.4 L500.9,692.6 L501.2,692.5 L501.4,699.6 L501.7,702.1 L501.9,697.6 L502.2,701.1 L502.4,692.6 L502.7,692.7 L502.9,698.1 L503.2,699.5 L503.4,700.8 L503.7,703.4 L503.9,687.0 L504.2,697.9 L504.4,691.3 L504.7,688.1 L504.9,694.4 L505.2,696.6 L505.4,694.3 L505.7,695.5 L505.9,696.7 L506.2,696.2 L506.4,696.7 L506.7,697.3 L506.9,699.3 L507.2,696.9 L507.2,696.7 L507.5,667.2 L507.9,700.5 L507.9,699.9 L508.2,703.0 L508.4,698.6 L508.7,701.2 L508.9,701.1 L509.2,696.8 L509.4,699.3 L509.7,698.0 L509.9,697.7 L510.2,696.0 L510.4,697.6 L510.7,696.9 L510.9,696.6 L511.2,669.3 L511.6,700.4 L511.7,699.0 L511.9,699.0 L512.2,698.4 L512.5,700.8 L512.7,696.6 L512.9,667.2 L513.4,700.4 L513.5,702.0 L513.7,700.9 L514.0,697.4 L514.2,701.0 L514.5,699.3 L514.7,696.5 L515.0,697.2 L515.2,697.1 L515.5,697.2 L515.7,698.3 L516.0,696.7 L516.2,695.4 L516.5,700.1 L516.7,696.3 L517.0,696.3 L517.2,696.6 L517.5,695.3 L517.7,696.6 L518.0,697.4 L518.1,696.4 L518.3,669.2 L518.8,700.2 L519.0,700.2 L519.2,698.0 L519.5,697.5 L519.7,696.3 L520.0,697.4 L520.2,697.6 L520.3,696.4 L520.5,668.2 L521.0,700.2 L521.2,699.2 L521.5,700.7 L521.7,700.3 L522.0,698.8 L522.2,699.4 L522.5,700.2 L522.7,698.8 L523.0,700.1 L523.2,698.5 L523.5,699.8 L523.7,696.9 L524.0,698.5 L524.2,696.3 L524.5,696.5 L524.7,696.3 L524.9,671.8 L525.4,700.1 L525.5,701.0 L525.7,699.0 L526.0,701.1 L526.2,700.1 L526.5,696.1 L526.7,698.5 L527.0,697.3 L527.2,697.6 L527.5,697.9 L527.7,696.7 L528.0,695.7 L528.2,699.0 L528.5,697.9 L528.7,694.9 L529.0,695.5 L529.2,697.1 L529.5,696.6 L529.7,696.5 L530.0,695.3 L530.2,696.0 L530.5,695.0 L530.7,693.0 L530.9,696.1 L531.2,674.0 L531.6,699.9 L531.7,698.2 L532.0,700.3 L532.2,702.3 L532.5,700.0 L532.7,699.5 L533.0,696.7 L533.2,696.5 L533.3,696.0 L533.6,671.6 L534.0,699.8 L534.2,697.8 L534.5,698.1 L534.7,696.1 L535.0,698.9 L535.2,698.6 L535.4,696.0 L535.6,672.6 L536.1,699.8 L536.2,699.2 L536.5,698.4 L536.7,696.1 L537.0,699.4 L537.2,698.2 L537.5,697.9 L537.7,696.4 L538.0,699.0 L538.2,695.3 L538.5,698.8 L538.7,695.1 L539.0,695.2 L539.2,693.8 L539.5,696.7 L539.7,694.9 L540.0,696.2 L540.2,694.8 L540.5,694.0 L540.7,696.4 L541.0,698.0 L541.2,695.8 L541.5,696.0 L541.7,697.3 L542.0,693.7 L542.2,695.3 L542.5,696.9 L542.7,694.9 L542.7,695.8 L543.0,671.9 L543.4,699.6 L543.5,699.3 L543.7,699.5 L544.0,697.8 L544.2,698.0 L544.5,698.6 L544.6,695.8 L544.9,678.2 L545.3,699.6 L545.5,699.4 L545.7,701.7 L546.0,700.6 L546.2,697.7 L546.5,698.6 L546.7,697.6 L547.0,697.6 L547.1,695.7 L547.4,676.2 L547.8,699.5 L548.0,697.5 L548.2,697.5 L548.5,698.5 L548.7,697.9 L549.0,697.7 L549.2,697.2 L549.5,696.3 L549.7,697.1 L550.0,695.2 L550.2,694.5 L550.5,694.5 L550.7,695.7 L551.0,696.7 L551.0,695.6 L551.2,675.7 L551.7,699.4 L551.7,699.5 L552.0,698.5 L552.2,698.8 L552.5,697.8 L552.7,696.5 L553.0,696.1 L553.2,697.3 L553.3,695.5 L553.6,679.2 L554.0,699.3 L554.2,696.9 L554.5,697.0 L554.7,697.9 L555.0,699.6 L555.2,698.6 L555.5,695.9 L555.7,697.9 L556.0,696.3 L556.2,697.0 L556.5,697.4 L556.7,695.4 L556.9,676.5 L557.3,699.2 L557.5,699.9 L557.7,699.9 L558.0,698.0 L558.2,700.6 L558.5,698.4 L558.6,695.4 L558.9,676.4 L559.3,699.2 L559.5,699.7 L559.7,701.0 L560.0,699.3 L560.2,698.0 L560.5,699.1 L560.7,697.8 L561.0,698.8 L561.2,696.2 L561.5,696.8 L561.7,697.0 L562.0,696.7 L562.2,697.1 L562.3,695.3 L562.6,677.2 L563.0,699.1 L563.2,699.2 L563.5,697.6 L563.7,696.5 L564.0,696.6 L564.2,697.1 L564.5,697.0 L564.7,697.2 L565.0,695.8 L565.2,696.6 L565.5,698.4 L565.7,694.7 L566.0,696.0 L566.2,697.2 L566.5,695.2 L566.7,694.8 L567.0,694.0 L567.2,693.8 L567.5,694.4 L567.7,695.5 L567.9,695.1 L568.1,682.9 L568.6,698.9 L568.7,698.2 L569.0,697.6 L569.2,697.8 L569.4,695.1 L569.7,682.3 L570.1,698.9 L570.2,698.3 L570.5,699.0 L570.7,697.9 L571.0,699.8 L571.2,698.1 L571.5,697.6 L571.7,695.9 L572.0,696.1 L572.2,696.0 L572.5,695.3 L572.7,696.2 L573.0,696.6 L573.2,694.8 L573.5,696.6 L573.7,696.8 L574.0,695.5 L574.2,694.9 L574.5,696.7 L574.7,695.7 L575.0,696.1 L575.2,695.9 L575.5,696.5 L575.7,697.1 L576.0,694.3 L576.2,695.8 L576.5,694.4 L576.7,696.2 L577.0,694.5 L577.2,692.1 L577.5,695.2 L577.7,693.7 L578.0,694.3 L578.0,694.9 L578.2,683.4 L578.7,698.7 L578.7,698.6 L579.0,697.3 L579.2,697.1 L579.5,697.9 L579.7,696.8 L580.0,697.4 L580.2,696.9 L580.5,696.6 L580.6,694.8 L580.9,684.2 L581.3,698.6 L581.5,698.5 L581.7,697.3 L582.0,697.3 L582.2,697.5 L582.5,697.2 L582.7,696.7 L583.0,696.3 L583.2,695.9 L583.5,696.8 L583.6,694.7 L583.8,684.9 L584.3,698.5 L584.5,698.8 L584.7,698.6 L585.0,697.8 L585.2,697.0 L585.5,696.0 L585.7,697.0 L586.0,695.7 L586.2,696.9 L586.5,697.1 L586.7,696.9 L587.0,694.6 L587.2,694.4 L587.5,694.6 L587.7,695.5 L587.8,694.6 L588.0,686.1 L588.5,698.4 L588.7,698.9 L589.0,698.8 L589.2,698.9 L589.5,697.1 L589.7,695.6 L590.0,695.4 L590.1,694.6 L590.3,684.2 L590.8,698.4 L591.0,698.4 L591.2,699.3 L591.5,697.7 L591.7,697.5 L592.0,696.0 L592.2,695.8 L592.3,694.5 L592.6,686.5 L593.0,698.3 L593.2,697.9 L593.5,697.3 L593.7,697.0 L594.0,696.5 L594.2,696.9 L594.5,696.0 L594.7,696.3 L595.0,695.4 L595.2,694.8 L595.5,694.8 L595.7,694.8 L596.0,695.2 L596.2,694.2 L596.5,694.3 L596.7,695.7 L597.0,694.9 L597.2,694.8 L597.5,695.0 L597.7,694.7 L598.0,693.3 L598.0,694.4 L598.2,687.5 L598.7,698.2 L598.7,697.7 L599.0,697.3 L599.2,697.1 L599.5,696.4 L599.7,695.0 L600.0,695.3 L600.2,696.0 L600.2,694.3 L600.5,686.0 L600.9,698.1 L601.0,698.1 L601.2,697.5 L601.5,697.1 L601.7,696.1 L602.0,695.6 L602.2,696.0 L602.5,694.6 L602.7,694.9 L603.0,695.2 L603.0,694.3 L603.3,686.4 L603.7,698.1 L604.0,698.4 L604.2,696.8 L604.5,696.5 L604.7,696.4 L605.0,696.1 L605.2,695.5 L605.5,695.9 L605.7,695.3 L606.0,695.2 L606.2,695.8 L606.5,694.5 L606.7,695.0 L607.0,695.1 L607.2,694.6 L607.5,694.4 L607.7,695.6 L608.0,695.1 L608.2,694.8 L608.5,694.7 L608.7,694.4 L609.0,693.9 L609.2,695.0 L609.5,693.9 L609.7,695.0 L610.0,694.1 L610.2,694.5 L610.5,694.6 L610.7,693.9 L611.0,693.9 L611.2,694.5 L611.5,694.3 L611.7,694.2 L612.0,694.5 L612.2,695.5 L612.5,694.6 L612.7,694.0 L613.0,693.3 L613.2,694.3 L613.5,692.8 L613.7,694.0 L614.0,693.1 L614.2,694.6 L614.5,692.9 L614.7,694.7 L615.0,695.0 L615.2,693.7 L615.5,694.5 L615.7,695.5 L616.0,695.6 L616.2,693.9 L616.5,695.0 L616.7,694.9 L617.0,695.0 L617.2,694.7 L617.5,695.6 L617.7,694.4 L618.0,694.0 L618.2,693.9 L618.5,694.7 L618.7,695.1 L619.0,694.5 L619.2,695.9 L619.5,694.5 L619.7,695.1 L620.0,695.5 L620.2,695.8 L620.5,694.5 L620.7,694.7 L621.0,695.2 L621.2,694.4 L621.5,694.6 L621.7,694.7 L622.0,694.3 L622.2,694.4 L622.5,694.9 L622.7,694.4 L623.0,695.2 L623.2,693.3 L623.5,694.1 L623.7,695.4 L624.0,694.6 L624.2,693.9 L624.5,694.4 L624.7,694.5 L625.0,693.9 L625.2,694.7 L625.5,694.2 L625.7,694.3 L626.0,694.5 L626.2,694.2 L626.5,693.1 L626.7,693.5 L627.0,693.8 L627.2,692.5 L627.5,692.6 L627.7,693.8 L628.0,693.6 L628.2,693.4 L628.5,693.8 L628.7,693.2 L629.0,695.3 L629.2,693.2 L629.5,693.5 L629.7,693.2 L630.0,693.7 L630.2,694.9 L630.5,693.9 L630.7,694.5 L631.0,693.8 L631.2,695.2 L631.5,694.3 L631.7,693.7 L632.0,694.8 L632.2,694.3 L632.5,694.5 L632.7,694.2 L633.0,693.7 L633.2,693.2 L633.5,692.6 L633.7,692.4 L634.0,694.1 L634.2,694.0 L634.5,694.9 L634.7,694.5 L635.0,693.7 L635.2,694.1 L635.5,695.5 L635.7,694.2 L636.0,694.5 L636.2,693.6 L636.5,693.8 L636.7,693.5 L637.0,693.6 L637.2,693.6 L637.5,693.3 L637.7,693.6 L638.0,694.1 L638.2,694.4 L638.5,694.5 L638.7,695.8 L639.0,694.8 L639.2,694.6 L639.5,694.3 L639.7,694.9 L640.0,693.5 L640.2,693.5 L640.5,693.8 L640.7,694.2 L641.0,693.1 L641.2,694.6 L641.5,693.5 L641.7,693.4 L642.0,694.2 L642.2,695.4 L642.5,694.0 L642.7,693.7 L643.0,694.1 L643.2,694.7 L643.5,694.6 L643.7,693.8 L644.0,694.5 L644.2,694.6 L644.5,695.1 L644.7,695.0 L645.0,693.9 L645.2,694.5 L645.5,693.6 L645.7,693.4 L646.0,692.9 L646.2,693.0 L646.5,694.2 L646.7,693.4 L647.0,694.8 L647.2,694.3 L647.5,694.6 L647.7,694.0 L648.0,693.9 L648.2,694.3 L648.5,694.8 L648.7,696.0 L649.0,694.1 L649.2,695.1 L649.5,695.1 L649.7,694.6 L650.0,695.3 L650.2,694.1 L650.5,694.8 L650.7,695.4 L651.0,693.9 L651.2,694.8 L651.5,695.3 L651.7,694.2 L652.0,694.9 L652.2,694.4 L652.5,694.0 L652.7,695.0 L653.0,693.8 L653.2,694.9 L653.5,694.6 L653.7,694.2 L654.0,694.0 L654.2,693.3 L654.5,693.8 L654.7,692.5 L655.0,693.1 L655.2,693.4 L655.5,695.0 L655.7,693.7 L656.0,694.6 L656.2,693.2 L656.5,694.2 L656.7,693.6 L657.0,693.4 L657.2,693.5 L657.5,693.0 L657.7,693.2 L658.0,695.3 L658.2,695.3 L658.5,694.4 L658.7,695.3 L659.0,694.6 L659.2,694.6 L659.5,694.2 L659.7,695.3 L660.0,695.8 L660.2,693.5 L660.5,694.0 L660.7,694.3 L661.0,694.9 L661.2,692.3 L661.5,694.3 L661.7,694.6 L662.0,693.5 L662.2,694.5 L662.5,694.5 L662.7,694.6 L663.0,694.1 L663.2,694.3 L663.5,693.8 L663.7,694.5 L664.0,694.1 L664.2,693.5 L664.5,693.5 L664.7,695.1 L665.0,694.6 L665.2,694.1 L665.5,693.4 L665.7,693.4 L666.0,694.6 L666.2,694.7 L666.5,694.4 L666.7,694.8 L667.0,694.7 L667.2,694.4 L667.5,693.6 L667.7,695.0 L668.0,694.7 L668.2,694.2 L668.5,693.4 L668.7,694.2 L669.0,694.2 L669.2,694.7 L669.5,694.5 L669.7,695.5 L670.0,694.8 L670.2,694.7 L670.5,693.5 L670.7,694.1 L671.0,693.8 L671.2,694.7 L671.5,694.8 L671.7,695.6 L672.0,694.8 L672.2,694.1 L672.5,695.8 L672.7,694.6 L673.0,693.8 L673.2,694.1 L673.5,693.6 L673.7,694.6 L674.0,693.8 L674.2,694.6 L674.5,694.2" fill="none" stroke="#111" stroke-width="0.85" />
<line x1="325.50" y1="654.00" x2="325.50" y2="734.00" stroke="#141210" stroke-width="1.25" />
<line x1="337.80" y1="654.00" x2="337.80" y2="734.00" stroke="#141210" stroke-width="1.25" />
<line x1="350.30" y1="654.00" x2="350.30" y2="734.00" stroke="#141210" stroke-width="1.25" />
<line x1="362.70" y1="654.00" x2="362.70" y2="734.00" stroke="#141210" stroke-width="1.25" />
<line x1="375.00" y1="654.00" x2="375.00" y2="734.00" stroke="#141210" stroke-width="1.25" />
<line x1="409.30" y1="635.40" x2="417.20" y2="641.00" stroke="#111" stroke-width="1.7" />
<polygon points="417.7,641.3 411.4,640.5 414.8,635.7" fill="#111"/>
<line x1="493.90" y1="631.70" x2="490.90" y2="639.60" stroke="#111" stroke-width="1.7" />
<polygon points="490.7,640.2 490.0,633.9 495.4,636.0" fill="#111"/>
<text x="17.50" y="809.00" font-size="21.8" font-weight="normal" font-style="normal" text-anchor="start" fill="#111" font-family="Liberation Sans" >h</text>
<line x1="36.30" y1="831.70" x2="36.30" y2="1016.60" stroke="#111" stroke-width="1.7" />
<line x1="36.30" y1="1015.80" x2="43.70" y2="1015.80" stroke="#111" stroke-width="1.7" />
<text transform="translate(31.60,1021.20) scale(1.0,1.05)" font-size="11.4" font-weight="normal" font-style="normal" text-anchor="end" fill="#161616" font-family="Liberation Sans" >0</text>
<line x1="36.30" y1="979.14" x2="43.70" y2="979.14" stroke="#111" stroke-width="1.7" />
<text transform="translate(31.60,984.54) scale(1.0,1.05)" font-size="11.4" font-weight="normal" font-style="normal" text-anchor="end" fill="#161616" font-family="Liberation Sans" >14</text>
<line x1="36.30" y1="942.48" x2="43.70" y2="942.48" stroke="#111" stroke-width="1.7" />
<text transform="translate(31.60,947.88) scale(1.0,1.05)" font-size="11.4" font-weight="normal" font-style="normal" text-anchor="end" fill="#161616" font-family="Liberation Sans" >28</text>
<line x1="36.30" y1="905.82" x2="43.70" y2="905.82" stroke="#111" stroke-width="1.7" />
<text transform="translate(31.60,911.22) scale(1.0,1.05)" font-size="11.4" font-weight="normal" font-style="normal" text-anchor="end" fill="#161616" font-family="Liberation Sans" >42</text>
<line x1="36.30" y1="869.16" x2="43.70" y2="869.16" stroke="#111" stroke-width="1.7" />
<text transform="translate(31.60,874.56) scale(1.0,1.05)" font-size="11.4" font-weight="normal" font-style="normal" text-anchor="end" fill="#161616" font-family="Liberation Sans" >56</text>
<line x1="36.30" y1="832.50" x2="43.70" y2="832.50" stroke="#111" stroke-width="1.7" />
<text transform="translate(31.60,837.90) scale(1.0,1.05)" font-size="11.4" font-weight="normal" font-style="normal" text-anchor="end" fill="#161616" font-family="Liberation Sans" >70</text>
<line x1="35.20" y1="1015.70" x2="319.80" y2="1015.70" stroke="#111" stroke-width="1.7" />
<rect x="90.10" y="961.40" width="72.80" height="54.30" fill="#050505" stroke="none" stroke-width="0" />
<rect x="210.10" y="872.20" width="70.80" height="143.50" fill="#fff" stroke="#111" stroke-width="1.5" />
<text transform="translate(12.90,922.40) rotate(-90)" x="0" y="0" font-size="11.2" text-anchor="middle" fill="#111" font-family="Liberation Sans">% of animals with Epileptyc Seizures</text>
<text x="103.30" y="1040.50" font-size="13.8" font-weight="bold" font-style="italic" text-anchor="start" fill="#111" font-family="Liberation Sans" >Prnp</text>
<text x="134.40" y="1032.90" font-size="8.4" font-weight="bold" font-style="italic" text-anchor="start" fill="#111" font-family="Liberation Sans" >+/+</text>
<text x="214.60" y="1040.60" font-size="14" font-weight="bold" font-style="italic" text-anchor="start" fill="#111" font-family="Liberation Sans" >Prnp</text>
<text x="245.80" y="1031.60" font-size="8.1" font-weight="bold" font-style="italic" text-anchor="start" fill="#111" font-family="Liberation Sans" >ZH3/ZH3</text>
<text x="348.30" y="807.90" font-size="22.5" font-weight="normal" font-style="normal" text-anchor="start" fill="#111" font-family="Liberation Sans" >i</text>
<line x1="383.60" y1="830.50" x2="383.60" y2="1017.20" stroke="#111" stroke-width="1.7" />
<line x1="383.60" y1="1016.40" x2="390.80" y2="1016.40" stroke="#111" stroke-width="1.7" />
<text transform="translate(379.80,1021.80) scale(1.0,1.05)" font-size="11.4" font-weight="normal" font-style="normal" text-anchor="end" fill="#161616" font-family="Liberation Sans" >0</text>
<line x1="383.60" y1="979.38" x2="390.80" y2="979.38" stroke="#111" stroke-width="1.7" />
<text transform="translate(379.80,984.78) scale(1.0,1.05)" font-size="11.4" font-weight="normal" font-style="normal" text-anchor="end" fill="#161616" font-family="Liberation Sans" >10</text>
<line x1="383.60" y1="942.36" x2="390.80" y2="942.36" stroke="#111" stroke-width="1.7" />
<text transform="translate(379.80,947.76) scale(1.0,1.05)" font-size="11.4" font-weight="normal" font-style="normal" text-anchor="end" fill="#161616" font-family="Liberation Sans" >20</text>
<line x1="383.60" y1="905.34" x2="390.80" y2="905.34" stroke="#111" stroke-width="1.7" />
<text transform="translate(379.80,910.74) scale(1.0,1.05)" font-size="11.4" font-weight="normal" font-style="normal" text-anchor="end" fill="#161616" font-family="Liberation Sans" >30</text>
<line x1="383.60" y1="868.32" x2="390.80" y2="868.32" stroke="#111" stroke-width="1.7" />
<text transform="translate(379.80,873.72) scale(1.0,1.05)" font-size="11.4" font-weight="normal" font-style="normal" text-anchor="end" fill="#161616" font-family="Liberation Sans" >40</text>
<line x1="383.60" y1="831.30" x2="390.80" y2="831.30" stroke="#111" stroke-width="1.7" />
<text transform="translate(379.80,836.70) scale(1.0,1.05)" font-size="11.4" font-weight="normal" font-style="normal" text-anchor="end" fill="#161616" font-family="Liberation Sans" >50</text>
<line x1="382.80" y1="1016.30" x2="659.50" y2="1016.30" stroke="#111" stroke-width="1.7" />
<text transform="translate(360.10,935.50) rotate(-90)" x="0" y="0" font-size="11.3" text-anchor="middle" fill="#111" font-family="Liberation Sans">Epileptyc Seizure Duration (s)</text>
<text x="430.90" y="1040.60" font-size="13.8" font-weight="bold" font-style="italic" text-anchor="start" fill="#111" font-family="Liberation Sans" >Prnp</text>
<text x="462.00" y="1032.60" font-size="7.6" font-weight="bold" font-style="italic" text-anchor="start" fill="#111" font-family="Liberation Sans" >+/+</text>
<text x="560.00" y="1041.00" font-size="14" font-weight="bold" font-style="italic" text-anchor="start" fill="#111" font-family="Liberation Sans" >Prnp</text>
<text x="591.20" y="1032.30" font-size="8.1" font-weight="bold" font-style="italic" text-anchor="start" fill="#111" font-family="Liberation Sans" >ZH3/ZH3</text>
<rect x="447.30" y="942.70" width="7.00" height="6.80" fill="#111" stroke="none" stroke-width="0" />
<rect x="447.30" y="957.10" width="7.00" height="6.80" fill="#111" stroke="none" stroke-width="0" />
<rect x="447.30" y="977.80" width="7.00" height="6.80" fill="#111" stroke="none" stroke-width="0" />
<rect x="447.30" y="998.00" width="7.00" height="6.80" fill="#111" stroke="none" stroke-width="0" />
<line x1="406.30" y1="972.40" x2="497.30" y2="972.40" stroke="#141210" stroke-width="2.4" />
<line x1="427.00" y1="960.30" x2="473.50" y2="960.30" stroke="#141210" stroke-width="2.4" />
<line x1="427.00" y1="984.30" x2="473.50" y2="984.30" stroke="#141210" stroke-width="2.4" />
<line x1="450.80" y1="960.30" x2="450.80" y2="984.30" stroke="#141210" stroke-width="2.4" />
<rect x="587.20" y="859.10" width="7.20" height="7.20" fill="none" stroke="#111" stroke-width="1.7" rx="0.8"/>
<rect x="587.20" y="918.00" width="7.20" height="7.20" fill="none" stroke="#111" stroke-width="1.7" rx="0.8"/>
<rect x="575.60" y="933.40" width="7.20" height="7.20" fill="none" stroke="#111" stroke-width="1.7" rx="0.8"/>
<rect x="587.20" y="934.20" width="7.20" height="7.20" fill="none" stroke="#111" stroke-width="1.7" rx="0.8"/>
<rect x="598.60" y="932.10" width="7.20" height="7.20" fill="none" stroke="#111" stroke-width="1.7" rx="0.8"/>
<rect x="604.00" y="941.00" width="7.20" height="7.20" fill="none" stroke="#111" stroke-width="1.7" rx="0.8"/>
<rect x="570.70" y="945.90" width="7.20" height="7.20" fill="none" stroke="#111" stroke-width="1.7" rx="0.8"/>
<rect x="581.50" y="951.00" width="7.20" height="7.20" fill="none" stroke="#111" stroke-width="1.7" rx="0.8"/>
<rect x="592.30" y="950.50" width="7.20" height="7.20" fill="none" stroke="#111" stroke-width="1.7" rx="0.8"/>
<rect x="598.60" y="958.00" width="7.20" height="7.20" fill="none" stroke="#111" stroke-width="1.7" rx="0.8"/>
<rect x="575.60" y="962.60" width="7.20" height="7.20" fill="none" stroke="#111" stroke-width="1.7" rx="0.8"/>
<rect x="587.20" y="963.40" width="7.20" height="7.20" fill="none" stroke="#111" stroke-width="1.7" rx="0.8"/>
<rect x="587.20" y="988.80" width="7.20" height="7.20" fill="none" stroke="#111" stroke-width="1.7" rx="0.8"/>
<line x1="544.60" y1="945.10" x2="637.80" y2="945.10" stroke="#141210" stroke-width="2.2" />
<line x1="567.60" y1="936.50" x2="614.10" y2="936.50" stroke="#141210" stroke-width="2.2" />
<line x1="567.60" y1="953.50" x2="614.10" y2="953.50" stroke="#141210" stroke-width="2.2" />
<line x1="590.80" y1="936.50" x2="590.80" y2="953.50" stroke="#141210" stroke-width="2.2" />
</svg>
</body></html>
